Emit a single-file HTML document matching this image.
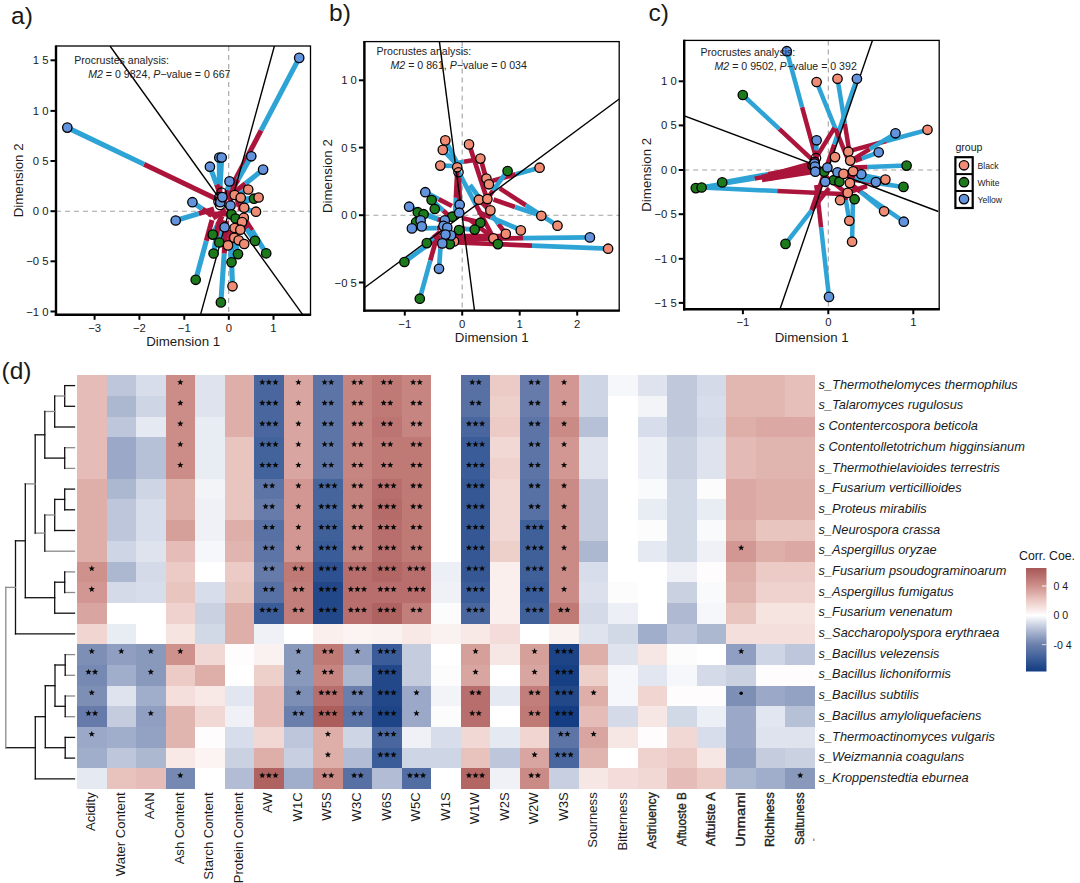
<!DOCTYPE html>
<html><head><meta charset="utf-8"><title>figure</title>
<style>html,body{margin:0;padding:0;background:#fff}svg{display:block}text{font-family:"Liberation Sans",sans-serif;fill:#1a1a1a}</style></head><body>
<svg width="1080" height="883" viewBox="0 0 1080 883">
<rect width="1080" height="883" fill="#ffffff"/>
<g shape-rendering="crispEdges">
<rect x="77.00" y="375.30" width="29.82" height="20.99" fill="#e5bcb8"/>
<rect x="106.52" y="375.30" width="29.82" height="20.99" fill="#bdc6da"/>
<rect x="136.04" y="375.30" width="29.82" height="20.99" fill="#d7ddea"/>
<rect x="165.56" y="375.30" width="29.82" height="20.99" fill="#cc8c88"/>
<rect x="195.08" y="375.30" width="29.82" height="20.99" fill="#dee3ee"/>
<rect x="224.60" y="375.30" width="29.82" height="20.99" fill="#deaea9"/>
<rect x="254.12" y="375.30" width="29.82" height="20.99" fill="#49679e"/>
<rect x="283.64" y="375.30" width="29.82" height="20.99" fill="#d9a5a0"/>
<rect x="313.16" y="375.30" width="29.82" height="20.99" fill="#5d75a6"/>
<rect x="342.68" y="375.30" width="29.82" height="20.99" fill="#c78581"/>
<rect x="372.20" y="375.30" width="29.82" height="20.99" fill="#bf7a76"/>
<rect x="401.72" y="375.30" width="29.82" height="20.99" fill="#c78581"/>
<rect x="431.24" y="375.30" width="29.82" height="20.99" fill="#ffffff"/>
<rect x="460.76" y="375.30" width="29.82" height="20.99" fill="#5871a4"/>
<rect x="490.28" y="375.30" width="29.82" height="20.99" fill="#eccbc6"/>
<rect x="519.80" y="375.30" width="29.82" height="20.99" fill="#667ba9"/>
<rect x="549.32" y="375.30" width="29.82" height="20.99" fill="#d29792"/>
<rect x="578.84" y="375.30" width="29.82" height="20.99" fill="#ced5e4"/>
<rect x="608.36" y="375.30" width="29.82" height="20.99" fill="#f6f7fa"/>
<rect x="637.88" y="375.30" width="29.82" height="20.99" fill="#dee3ee"/>
<rect x="667.40" y="375.30" width="29.82" height="20.99" fill="#c0c9dc"/>
<rect x="696.92" y="375.30" width="29.82" height="20.99" fill="#d4dae8"/>
<rect x="726.44" y="375.30" width="29.82" height="20.99" fill="#e2b7b2"/>
<rect x="755.96" y="375.30" width="29.82" height="20.99" fill="#e2b7b2"/>
<rect x="785.48" y="375.30" width="29.82" height="20.99" fill="#e6bfba"/>
<rect x="77.00" y="395.99" width="29.82" height="20.99" fill="#e5bcb8"/>
<rect x="106.52" y="395.99" width="29.82" height="20.99" fill="#acb7d0"/>
<rect x="136.04" y="395.99" width="29.82" height="20.99" fill="#ced5e4"/>
<rect x="165.56" y="395.99" width="29.82" height="20.99" fill="#cc8c88"/>
<rect x="195.08" y="395.99" width="29.82" height="20.99" fill="#dee3ee"/>
<rect x="224.60" y="395.99" width="29.82" height="20.99" fill="#deaea9"/>
<rect x="254.12" y="395.99" width="29.82" height="20.99" fill="#49679e"/>
<rect x="283.64" y="395.99" width="29.82" height="20.99" fill="#d9a5a0"/>
<rect x="313.16" y="395.99" width="29.82" height="20.99" fill="#5d75a6"/>
<rect x="342.68" y="395.99" width="29.82" height="20.99" fill="#c78581"/>
<rect x="372.20" y="395.99" width="29.82" height="20.99" fill="#bf7a76"/>
<rect x="401.72" y="395.99" width="29.82" height="20.99" fill="#c78581"/>
<rect x="431.24" y="395.99" width="29.82" height="20.99" fill="#ffffff"/>
<rect x="460.76" y="395.99" width="29.82" height="20.99" fill="#5871a4"/>
<rect x="490.28" y="395.99" width="29.82" height="20.99" fill="#eed0cb"/>
<rect x="519.80" y="395.99" width="29.82" height="20.99" fill="#667ba9"/>
<rect x="549.32" y="395.99" width="29.82" height="20.99" fill="#d29792"/>
<rect x="578.84" y="395.99" width="29.82" height="20.99" fill="#ced5e4"/>
<rect x="608.36" y="395.99" width="29.82" height="20.99" fill="#ffffff"/>
<rect x="637.88" y="395.99" width="29.82" height="20.99" fill="#f2f4f8"/>
<rect x="667.40" y="395.99" width="29.82" height="20.99" fill="#c0c9dc"/>
<rect x="696.92" y="395.99" width="29.82" height="20.99" fill="#d7ddea"/>
<rect x="726.44" y="395.99" width="29.82" height="20.99" fill="#e2b7b2"/>
<rect x="755.96" y="395.99" width="29.82" height="20.99" fill="#e2b7b2"/>
<rect x="785.48" y="395.99" width="29.82" height="20.99" fill="#e6bfba"/>
<rect x="77.00" y="416.68" width="29.82" height="20.99" fill="#e5bcb8"/>
<rect x="106.52" y="416.68" width="29.82" height="20.99" fill="#bdc6da"/>
<rect x="136.04" y="416.68" width="29.82" height="20.99" fill="#e5e9f1"/>
<rect x="165.56" y="416.68" width="29.82" height="20.99" fill="#cc8c88"/>
<rect x="195.08" y="416.68" width="29.82" height="20.99" fill="#e8ecf3"/>
<rect x="224.60" y="416.68" width="29.82" height="20.99" fill="#deaea9"/>
<rect x="254.12" y="416.68" width="29.82" height="20.99" fill="#49679e"/>
<rect x="283.64" y="416.68" width="29.82" height="20.99" fill="#d9a5a0"/>
<rect x="313.16" y="416.68" width="29.82" height="20.99" fill="#5d75a6"/>
<rect x="342.68" y="416.68" width="29.82" height="20.99" fill="#c78581"/>
<rect x="372.20" y="416.68" width="29.82" height="20.99" fill="#bc7572"/>
<rect x="401.72" y="416.68" width="29.82" height="20.99" fill="#c78581"/>
<rect x="431.24" y="416.68" width="29.82" height="20.99" fill="#ffffff"/>
<rect x="460.76" y="416.68" width="29.82" height="20.99" fill="#49679e"/>
<rect x="490.28" y="416.68" width="29.82" height="20.99" fill="#eccbc6"/>
<rect x="519.80" y="416.68" width="29.82" height="20.99" fill="#5d75a6"/>
<rect x="549.32" y="416.68" width="29.82" height="20.99" fill="#ca8a86"/>
<rect x="578.84" y="416.68" width="29.82" height="20.99" fill="#b6c0d6"/>
<rect x="608.36" y="416.68" width="29.82" height="20.99" fill="#ffffff"/>
<rect x="637.88" y="416.68" width="29.82" height="20.99" fill="#d7ddea"/>
<rect x="667.40" y="416.68" width="29.82" height="20.99" fill="#c0c9dc"/>
<rect x="696.92" y="416.68" width="29.82" height="20.99" fill="#d4dae8"/>
<rect x="726.44" y="416.68" width="29.82" height="20.99" fill="#deaea9"/>
<rect x="755.96" y="416.68" width="29.82" height="20.99" fill="#dba8a3"/>
<rect x="785.48" y="416.68" width="29.82" height="20.99" fill="#dba8a3"/>
<rect x="77.00" y="437.37" width="29.82" height="20.99" fill="#e5bcb8"/>
<rect x="106.52" y="437.37" width="29.82" height="20.99" fill="#9ba8c7"/>
<rect x="136.04" y="437.37" width="29.82" height="20.99" fill="#b6c0d6"/>
<rect x="165.56" y="437.37" width="29.82" height="20.99" fill="#cc8c88"/>
<rect x="195.08" y="437.37" width="29.82" height="20.99" fill="#e8ecf3"/>
<rect x="224.60" y="437.37" width="29.82" height="20.99" fill="#e9c5c0"/>
<rect x="254.12" y="437.37" width="29.82" height="20.99" fill="#43639c"/>
<rect x="283.64" y="437.37" width="29.82" height="20.99" fill="#d9a5a0"/>
<rect x="313.16" y="437.37" width="29.82" height="20.99" fill="#5d75a6"/>
<rect x="342.68" y="437.37" width="29.82" height="20.99" fill="#c78581"/>
<rect x="372.20" y="437.37" width="29.82" height="20.99" fill="#bf7a76"/>
<rect x="401.72" y="437.37" width="29.82" height="20.99" fill="#bf7a76"/>
<rect x="431.24" y="437.37" width="29.82" height="20.99" fill="#ffffff"/>
<rect x="460.76" y="437.37" width="29.82" height="20.99" fill="#3a5c98"/>
<rect x="490.28" y="437.37" width="29.82" height="20.99" fill="#f1d8d4"/>
<rect x="519.80" y="437.37" width="29.82" height="20.99" fill="#5d75a6"/>
<rect x="549.32" y="437.37" width="29.82" height="20.99" fill="#d29792"/>
<rect x="578.84" y="437.37" width="29.82" height="20.99" fill="#dee3ee"/>
<rect x="608.36" y="437.37" width="29.82" height="20.99" fill="#ffffff"/>
<rect x="637.88" y="437.37" width="29.82" height="20.99" fill="#eceff5"/>
<rect x="667.40" y="437.37" width="29.82" height="20.99" fill="#cad2e2"/>
<rect x="696.92" y="437.37" width="29.82" height="20.99" fill="#dee3ee"/>
<rect x="726.44" y="437.37" width="29.82" height="20.99" fill="#e3bab5"/>
<rect x="755.96" y="437.37" width="29.82" height="20.99" fill="#e0b4af"/>
<rect x="785.48" y="437.37" width="29.82" height="20.99" fill="#e0b4af"/>
<rect x="77.00" y="458.06" width="29.82" height="20.99" fill="#e5bcb8"/>
<rect x="106.52" y="458.06" width="29.82" height="20.99" fill="#9ba8c7"/>
<rect x="136.04" y="458.06" width="29.82" height="20.99" fill="#b6c0d6"/>
<rect x="165.56" y="458.06" width="29.82" height="20.99" fill="#cc8c88"/>
<rect x="195.08" y="458.06" width="29.82" height="20.99" fill="#e8ecf3"/>
<rect x="224.60" y="458.06" width="29.82" height="20.99" fill="#e9c5c0"/>
<rect x="254.12" y="458.06" width="29.82" height="20.99" fill="#43639c"/>
<rect x="283.64" y="458.06" width="29.82" height="20.99" fill="#d9a5a0"/>
<rect x="313.16" y="458.06" width="29.82" height="20.99" fill="#5d75a6"/>
<rect x="342.68" y="458.06" width="29.82" height="20.99" fill="#c78581"/>
<rect x="372.20" y="458.06" width="29.82" height="20.99" fill="#bf7a76"/>
<rect x="401.72" y="458.06" width="29.82" height="20.99" fill="#bf7a76"/>
<rect x="431.24" y="458.06" width="29.82" height="20.99" fill="#ffffff"/>
<rect x="460.76" y="458.06" width="29.82" height="20.99" fill="#3a5c98"/>
<rect x="490.28" y="458.06" width="29.82" height="20.99" fill="#efd2ce"/>
<rect x="519.80" y="458.06" width="29.82" height="20.99" fill="#5d75a6"/>
<rect x="549.32" y="458.06" width="29.82" height="20.99" fill="#d29792"/>
<rect x="578.84" y="458.06" width="29.82" height="20.99" fill="#dee3ee"/>
<rect x="608.36" y="458.06" width="29.82" height="20.99" fill="#ffffff"/>
<rect x="637.88" y="458.06" width="29.82" height="20.99" fill="#eceff5"/>
<rect x="667.40" y="458.06" width="29.82" height="20.99" fill="#cad2e2"/>
<rect x="696.92" y="458.06" width="29.82" height="20.99" fill="#dee3ee"/>
<rect x="726.44" y="458.06" width="29.82" height="20.99" fill="#e3bab5"/>
<rect x="755.96" y="458.06" width="29.82" height="20.99" fill="#e0b4af"/>
<rect x="785.48" y="458.06" width="29.82" height="20.99" fill="#e0b4af"/>
<rect x="77.00" y="478.75" width="29.82" height="20.99" fill="#deaea9"/>
<rect x="106.52" y="478.75" width="29.82" height="20.99" fill="#acb7d0"/>
<rect x="136.04" y="478.75" width="29.82" height="20.99" fill="#ced5e4"/>
<rect x="165.56" y="478.75" width="29.82" height="20.99" fill="#deaea9"/>
<rect x="195.08" y="478.75" width="29.82" height="20.99" fill="#f2f4f8"/>
<rect x="224.60" y="478.75" width="29.82" height="20.99" fill="#e9c5c0"/>
<rect x="254.12" y="478.75" width="29.82" height="20.99" fill="#5d75a6"/>
<rect x="283.64" y="478.75" width="29.82" height="20.99" fill="#d29792"/>
<rect x="313.16" y="478.75" width="29.82" height="20.99" fill="#46659d"/>
<rect x="342.68" y="478.75" width="29.82" height="20.99" fill="#c5837f"/>
<rect x="372.20" y="478.75" width="29.82" height="20.99" fill="#b76e6c"/>
<rect x="401.72" y="478.75" width="29.82" height="20.99" fill="#bf7a76"/>
<rect x="431.24" y="478.75" width="29.82" height="20.99" fill="#ffffff"/>
<rect x="460.76" y="478.75" width="29.82" height="20.99" fill="#355895"/>
<rect x="490.28" y="478.75" width="29.82" height="20.99" fill="#f1d8d4"/>
<rect x="519.80" y="478.75" width="29.82" height="20.99" fill="#5871a4"/>
<rect x="549.32" y="478.75" width="29.82" height="20.99" fill="#ca8a86"/>
<rect x="578.84" y="478.75" width="29.82" height="20.99" fill="#c4ccde"/>
<rect x="608.36" y="478.75" width="29.82" height="20.99" fill="#ffffff"/>
<rect x="637.88" y="478.75" width="29.82" height="20.99" fill="#f9fafc"/>
<rect x="667.40" y="478.75" width="29.82" height="20.99" fill="#d1d8e6"/>
<rect x="696.92" y="478.75" width="29.82" height="20.99" fill="#fcfcfd"/>
<rect x="726.44" y="478.75" width="29.82" height="20.99" fill="#dba8a3"/>
<rect x="755.96" y="478.75" width="29.82" height="20.99" fill="#deaea9"/>
<rect x="785.48" y="478.75" width="29.82" height="20.99" fill="#deaea9"/>
<rect x="77.00" y="499.44" width="29.82" height="20.99" fill="#deaea9"/>
<rect x="106.52" y="499.44" width="29.82" height="20.99" fill="#bdc6da"/>
<rect x="136.04" y="499.44" width="29.82" height="20.99" fill="#d7ddea"/>
<rect x="165.56" y="499.44" width="29.82" height="20.99" fill="#deaea9"/>
<rect x="195.08" y="499.44" width="29.82" height="20.99" fill="#eff1f7"/>
<rect x="224.60" y="499.44" width="29.82" height="20.99" fill="#e9c5c0"/>
<rect x="254.12" y="499.44" width="29.82" height="20.99" fill="#667ba9"/>
<rect x="283.64" y="499.44" width="29.82" height="20.99" fill="#d29792"/>
<rect x="313.16" y="499.44" width="29.82" height="20.99" fill="#46659d"/>
<rect x="342.68" y="499.44" width="29.82" height="20.99" fill="#c5837f"/>
<rect x="372.20" y="499.44" width="29.82" height="20.99" fill="#b56c69"/>
<rect x="401.72" y="499.44" width="29.82" height="20.99" fill="#bf7a76"/>
<rect x="431.24" y="499.44" width="29.82" height="20.99" fill="#ffffff"/>
<rect x="460.76" y="499.44" width="29.82" height="20.99" fill="#355895"/>
<rect x="490.28" y="499.44" width="29.82" height="20.99" fill="#f1d8d4"/>
<rect x="519.80" y="499.44" width="29.82" height="20.99" fill="#5871a4"/>
<rect x="549.32" y="499.44" width="29.82" height="20.99" fill="#ca8a86"/>
<rect x="578.84" y="499.44" width="29.82" height="20.99" fill="#c4ccde"/>
<rect x="608.36" y="499.44" width="29.82" height="20.99" fill="#ffffff"/>
<rect x="637.88" y="499.44" width="29.82" height="20.99" fill="#e8ecf3"/>
<rect x="667.40" y="499.44" width="29.82" height="20.99" fill="#d1d8e6"/>
<rect x="696.92" y="499.44" width="29.82" height="20.99" fill="#e8ecf3"/>
<rect x="726.44" y="499.44" width="29.82" height="20.99" fill="#dba8a3"/>
<rect x="755.96" y="499.44" width="29.82" height="20.99" fill="#deaea9"/>
<rect x="785.48" y="499.44" width="29.82" height="20.99" fill="#deaea9"/>
<rect x="77.00" y="520.13" width="29.82" height="20.99" fill="#deaea9"/>
<rect x="106.52" y="520.13" width="29.82" height="20.99" fill="#bdc6da"/>
<rect x="136.04" y="520.13" width="29.82" height="20.99" fill="#d7ddea"/>
<rect x="165.56" y="520.13" width="29.82" height="20.99" fill="#d6a09a"/>
<rect x="195.08" y="520.13" width="29.82" height="20.99" fill="#eff1f7"/>
<rect x="224.60" y="520.13" width="29.82" height="20.99" fill="#deaea9"/>
<rect x="254.12" y="520.13" width="29.82" height="20.99" fill="#5871a4"/>
<rect x="283.64" y="520.13" width="29.82" height="20.99" fill="#d29792"/>
<rect x="313.16" y="520.13" width="29.82" height="20.99" fill="#40609a"/>
<rect x="342.68" y="520.13" width="29.82" height="20.99" fill="#c5837f"/>
<rect x="372.20" y="520.13" width="29.82" height="20.99" fill="#b76e6c"/>
<rect x="401.72" y="520.13" width="29.82" height="20.99" fill="#bf7a76"/>
<rect x="431.24" y="520.13" width="29.82" height="20.99" fill="#ffffff"/>
<rect x="460.76" y="520.13" width="29.82" height="20.99" fill="#355895"/>
<rect x="490.28" y="520.13" width="29.82" height="20.99" fill="#f1d8d4"/>
<rect x="519.80" y="520.13" width="29.82" height="20.99" fill="#40609a"/>
<rect x="549.32" y="520.13" width="29.82" height="20.99" fill="#ca8a86"/>
<rect x="578.84" y="520.13" width="29.82" height="20.99" fill="#c4ccde"/>
<rect x="608.36" y="520.13" width="29.82" height="20.99" fill="#ffffff"/>
<rect x="637.88" y="520.13" width="29.82" height="20.99" fill="#fcfcfd"/>
<rect x="667.40" y="520.13" width="29.82" height="20.99" fill="#d1d8e6"/>
<rect x="696.92" y="520.13" width="29.82" height="20.99" fill="#f9fafc"/>
<rect x="726.44" y="520.13" width="29.82" height="20.99" fill="#deaea9"/>
<rect x="755.96" y="520.13" width="29.82" height="20.99" fill="#e9c5c0"/>
<rect x="785.48" y="520.13" width="29.82" height="20.99" fill="#e9c5c0"/>
<rect x="77.00" y="540.82" width="29.82" height="20.99" fill="#deaea9"/>
<rect x="106.52" y="540.82" width="29.82" height="20.99" fill="#ced5e4"/>
<rect x="136.04" y="540.82" width="29.82" height="20.99" fill="#dee3ee"/>
<rect x="165.56" y="540.82" width="29.82" height="20.99" fill="#e5bcb8"/>
<rect x="195.08" y="540.82" width="29.82" height="20.99" fill="#f6f7fa"/>
<rect x="224.60" y="540.82" width="29.82" height="20.99" fill="#e0b4af"/>
<rect x="254.12" y="540.82" width="29.82" height="20.99" fill="#5d75a6"/>
<rect x="283.64" y="540.82" width="29.82" height="20.99" fill="#d29792"/>
<rect x="313.16" y="540.82" width="29.82" height="20.99" fill="#3a5c98"/>
<rect x="342.68" y="540.82" width="29.82" height="20.99" fill="#c5837f"/>
<rect x="372.20" y="540.82" width="29.82" height="20.99" fill="#b76e6c"/>
<rect x="401.72" y="540.82" width="29.82" height="20.99" fill="#bf7a76"/>
<rect x="431.24" y="540.82" width="29.82" height="20.99" fill="#ffffff"/>
<rect x="460.76" y="540.82" width="29.82" height="20.99" fill="#355895"/>
<rect x="490.28" y="540.82" width="29.82" height="20.99" fill="#eed0cb"/>
<rect x="519.80" y="540.82" width="29.82" height="20.99" fill="#40609a"/>
<rect x="549.32" y="540.82" width="29.82" height="20.99" fill="#ca8a86"/>
<rect x="578.84" y="540.82" width="29.82" height="20.99" fill="#acb7d0"/>
<rect x="608.36" y="540.82" width="29.82" height="20.99" fill="#ffffff"/>
<rect x="637.88" y="540.82" width="29.82" height="20.99" fill="#e5e9f1"/>
<rect x="667.40" y="540.82" width="29.82" height="20.99" fill="#d1d8e6"/>
<rect x="696.92" y="540.82" width="29.82" height="20.99" fill="#eff1f7"/>
<rect x="726.44" y="540.82" width="29.82" height="20.99" fill="#d29792"/>
<rect x="755.96" y="540.82" width="29.82" height="20.99" fill="#deaea9"/>
<rect x="785.48" y="540.82" width="29.82" height="20.99" fill="#dba8a3"/>
<rect x="77.00" y="561.51" width="29.82" height="20.99" fill="#cf918c"/>
<rect x="106.52" y="561.51" width="29.82" height="20.99" fill="#acb7d0"/>
<rect x="136.04" y="561.51" width="29.82" height="20.99" fill="#d4dae8"/>
<rect x="165.56" y="561.51" width="29.82" height="20.99" fill="#eccbc6"/>
<rect x="195.08" y="561.51" width="29.82" height="20.99" fill="#ffffff"/>
<rect x="224.60" y="561.51" width="29.82" height="20.99" fill="#eccbc6"/>
<rect x="254.12" y="561.51" width="29.82" height="20.99" fill="#667ba9"/>
<rect x="283.64" y="561.51" width="29.82" height="20.99" fill="#bf7a76"/>
<rect x="313.16" y="561.51" width="29.82" height="20.99" fill="#2e5291"/>
<rect x="342.68" y="561.51" width="29.82" height="20.99" fill="#b76e6c"/>
<rect x="372.20" y="561.51" width="29.82" height="20.99" fill="#b26765"/>
<rect x="401.72" y="561.51" width="29.82" height="20.99" fill="#b76e6c"/>
<rect x="431.24" y="561.51" width="29.82" height="20.99" fill="#eceff5"/>
<rect x="460.76" y="561.51" width="29.82" height="20.99" fill="#355895"/>
<rect x="490.28" y="561.51" width="29.82" height="20.99" fill="#faefed"/>
<rect x="519.80" y="561.51" width="29.82" height="20.99" fill="#40609a"/>
<rect x="549.32" y="561.51" width="29.82" height="20.99" fill="#ca8a86"/>
<rect x="578.84" y="561.51" width="29.82" height="20.99" fill="#d7ddea"/>
<rect x="608.36" y="561.51" width="29.82" height="20.99" fill="#ffffff"/>
<rect x="637.88" y="561.51" width="29.82" height="20.99" fill="#ffffff"/>
<rect x="667.40" y="561.51" width="29.82" height="20.99" fill="#eff1f7"/>
<rect x="696.92" y="561.51" width="29.82" height="20.99" fill="#fefcfc"/>
<rect x="726.44" y="561.51" width="29.82" height="20.99" fill="#deaea9"/>
<rect x="755.96" y="561.51" width="29.82" height="20.99" fill="#eccbc6"/>
<rect x="785.48" y="561.51" width="29.82" height="20.99" fill="#eccbc6"/>
<rect x="77.00" y="582.20" width="29.82" height="20.99" fill="#d29792"/>
<rect x="106.52" y="582.20" width="29.82" height="20.99" fill="#d4dae8"/>
<rect x="136.04" y="582.20" width="29.82" height="20.99" fill="#d7ddea"/>
<rect x="165.56" y="582.20" width="29.82" height="20.99" fill="#e9c5c0"/>
<rect x="195.08" y="582.20" width="29.82" height="20.99" fill="#d7ddea"/>
<rect x="224.60" y="582.20" width="29.82" height="20.99" fill="#e9c5c0"/>
<rect x="254.12" y="582.20" width="29.82" height="20.99" fill="#5871a4"/>
<rect x="283.64" y="582.20" width="29.82" height="20.99" fill="#c27e7b"/>
<rect x="313.16" y="582.20" width="29.82" height="20.99" fill="#22488a"/>
<rect x="342.68" y="582.20" width="29.82" height="20.99" fill="#b76e6c"/>
<rect x="372.20" y="582.20" width="29.82" height="20.99" fill="#b76e6c"/>
<rect x="401.72" y="582.20" width="29.82" height="20.99" fill="#b76e6c"/>
<rect x="431.24" y="582.20" width="29.82" height="20.99" fill="#eff1f7"/>
<rect x="460.76" y="582.20" width="29.82" height="20.99" fill="#3a5c98"/>
<rect x="490.28" y="582.20" width="29.82" height="20.99" fill="#faefed"/>
<rect x="519.80" y="582.20" width="29.82" height="20.99" fill="#3a5c98"/>
<rect x="549.32" y="582.20" width="29.82" height="20.99" fill="#ca8a86"/>
<rect x="578.84" y="582.20" width="29.82" height="20.99" fill="#dbe0ec"/>
<rect x="608.36" y="582.20" width="29.82" height="20.99" fill="#fcfcfd"/>
<rect x="637.88" y="582.20" width="29.82" height="20.99" fill="#ffffff"/>
<rect x="667.40" y="582.20" width="29.82" height="20.99" fill="#cad2e2"/>
<rect x="696.92" y="582.20" width="29.82" height="20.99" fill="#f9fafc"/>
<rect x="726.44" y="582.20" width="29.82" height="20.99" fill="#e0b4af"/>
<rect x="755.96" y="582.20" width="29.82" height="20.99" fill="#efd2ce"/>
<rect x="785.48" y="582.20" width="29.82" height="20.99" fill="#efd2ce"/>
<rect x="77.00" y="602.89" width="29.82" height="20.99" fill="#d9a5a0"/>
<rect x="106.52" y="602.89" width="29.82" height="20.99" fill="#ffffff"/>
<rect x="136.04" y="602.89" width="29.82" height="20.99" fill="#ffffff"/>
<rect x="165.56" y="602.89" width="29.82" height="20.99" fill="#efd2ce"/>
<rect x="195.08" y="602.89" width="29.82" height="20.99" fill="#cad2e2"/>
<rect x="224.60" y="602.89" width="29.82" height="20.99" fill="#deaea9"/>
<rect x="254.12" y="602.89" width="29.82" height="20.99" fill="#3a5c98"/>
<rect x="283.64" y="602.89" width="29.82" height="20.99" fill="#c27e7b"/>
<rect x="313.16" y="602.89" width="29.82" height="20.99" fill="#22488a"/>
<rect x="342.68" y="602.89" width="29.82" height="20.99" fill="#b76e6c"/>
<rect x="372.20" y="602.89" width="29.82" height="20.99" fill="#af6361"/>
<rect x="401.72" y="602.89" width="29.82" height="20.99" fill="#c27e7b"/>
<rect x="431.24" y="602.89" width="29.82" height="20.99" fill="#fcfcfd"/>
<rect x="460.76" y="602.89" width="29.82" height="20.99" fill="#49679e"/>
<rect x="490.28" y="602.89" width="29.82" height="20.99" fill="#faefed"/>
<rect x="519.80" y="602.89" width="29.82" height="20.99" fill="#40609a"/>
<rect x="549.32" y="602.89" width="29.82" height="20.99" fill="#bf7a76"/>
<rect x="578.84" y="602.89" width="29.82" height="20.99" fill="#d4dae8"/>
<rect x="608.36" y="602.89" width="29.82" height="20.99" fill="#eceff5"/>
<rect x="637.88" y="602.89" width="29.82" height="20.99" fill="#ffffff"/>
<rect x="667.40" y="602.89" width="29.82" height="20.99" fill="#afbad2"/>
<rect x="696.92" y="602.89" width="29.82" height="20.99" fill="#f6f7fa"/>
<rect x="726.44" y="602.89" width="29.82" height="20.99" fill="#e9c5c0"/>
<rect x="755.96" y="602.89" width="29.82" height="20.99" fill="#f6e4e1"/>
<rect x="785.48" y="602.89" width="29.82" height="20.99" fill="#f6e4e1"/>
<rect x="77.00" y="623.58" width="29.82" height="20.99" fill="#f0d5d1"/>
<rect x="106.52" y="623.58" width="29.82" height="20.99" fill="#e8ecf3"/>
<rect x="136.04" y="623.58" width="29.82" height="20.99" fill="#ffffff"/>
<rect x="165.56" y="623.58" width="29.82" height="20.99" fill="#f6e4e1"/>
<rect x="195.08" y="623.58" width="29.82" height="20.99" fill="#d1d8e6"/>
<rect x="224.60" y="623.58" width="29.82" height="20.99" fill="#deaea9"/>
<rect x="254.12" y="623.58" width="29.82" height="20.99" fill="#eff1f7"/>
<rect x="283.64" y="623.58" width="29.82" height="20.99" fill="#ffffff"/>
<rect x="313.16" y="623.58" width="29.82" height="20.99" fill="#faefed"/>
<rect x="342.68" y="623.58" width="29.82" height="20.99" fill="#fbf4f3"/>
<rect x="372.20" y="623.58" width="29.82" height="20.99" fill="#faf2f0"/>
<rect x="401.72" y="623.58" width="29.82" height="20.99" fill="#f8e9e7"/>
<rect x="431.24" y="623.58" width="29.82" height="20.99" fill="#faf2f0"/>
<rect x="460.76" y="623.58" width="29.82" height="20.99" fill="#f8e9e7"/>
<rect x="490.28" y="623.58" width="29.82" height="20.99" fill="#f3dcd9"/>
<rect x="519.80" y="623.58" width="29.82" height="20.99" fill="#ffffff"/>
<rect x="549.32" y="623.58" width="29.82" height="20.99" fill="#faf2f0"/>
<rect x="578.84" y="623.58" width="29.82" height="20.99" fill="#dee3ee"/>
<rect x="608.36" y="623.58" width="29.82" height="20.99" fill="#d1d8e6"/>
<rect x="637.88" y="623.58" width="29.82" height="20.99" fill="#a1aecb"/>
<rect x="667.40" y="623.58" width="29.82" height="20.99" fill="#bdc6da"/>
<rect x="696.92" y="623.58" width="29.82" height="20.99" fill="#acb7d0"/>
<rect x="726.44" y="623.58" width="29.82" height="20.99" fill="#f4dfdc"/>
<rect x="755.96" y="623.58" width="29.82" height="20.99" fill="#f4dfdc"/>
<rect x="785.48" y="623.58" width="29.82" height="20.99" fill="#f4dfdc"/>
<rect x="77.00" y="644.27" width="29.82" height="20.99" fill="#7e8fb6"/>
<rect x="106.52" y="644.27" width="29.82" height="20.99" fill="#909fc1"/>
<rect x="136.04" y="644.27" width="29.82" height="20.99" fill="#8999bc"/>
<rect x="165.56" y="644.27" width="29.82" height="20.99" fill="#cf918c"/>
<rect x="195.08" y="644.27" width="29.82" height="20.99" fill="#f1d8d4"/>
<rect x="224.60" y="644.27" width="29.82" height="20.99" fill="#fefcfc"/>
<rect x="254.12" y="644.27" width="29.82" height="20.99" fill="#faf2f0"/>
<rect x="283.64" y="644.27" width="29.82" height="20.99" fill="#8999bc"/>
<rect x="313.16" y="644.27" width="29.82" height="20.99" fill="#bf7a76"/>
<rect x="342.68" y="644.27" width="29.82" height="20.99" fill="#909fc1"/>
<rect x="372.20" y="644.27" width="29.82" height="20.99" fill="#3a5c98"/>
<rect x="401.72" y="644.27" width="29.82" height="20.99" fill="#c4ccde"/>
<rect x="431.24" y="644.27" width="29.82" height="20.99" fill="#ffffff"/>
<rect x="460.76" y="644.27" width="29.82" height="20.99" fill="#d6a09a"/>
<rect x="490.28" y="644.27" width="29.82" height="20.99" fill="#f7e7e4"/>
<rect x="519.80" y="644.27" width="29.82" height="20.99" fill="#d6a09a"/>
<rect x="549.32" y="644.27" width="29.82" height="20.99" fill="#1d4487"/>
<rect x="578.84" y="644.27" width="29.82" height="20.99" fill="#deaea9"/>
<rect x="608.36" y="644.27" width="29.82" height="20.99" fill="#dee3ee"/>
<rect x="637.88" y="644.27" width="29.82" height="20.99" fill="#f7e7e4"/>
<rect x="667.40" y="644.27" width="29.82" height="20.99" fill="#fcfcfd"/>
<rect x="696.92" y="644.27" width="29.82" height="20.99" fill="#ffffff"/>
<rect x="726.44" y="644.27" width="29.82" height="20.99" fill="#909fc1"/>
<rect x="755.96" y="644.27" width="29.82" height="20.99" fill="#ced5e4"/>
<rect x="785.48" y="644.27" width="29.82" height="20.99" fill="#bdc6da"/>
<rect x="77.00" y="664.96" width="29.82" height="20.99" fill="#7689b2"/>
<rect x="106.52" y="664.96" width="29.82" height="20.99" fill="#a1aecb"/>
<rect x="136.04" y="664.96" width="29.82" height="20.99" fill="#8999bc"/>
<rect x="165.56" y="664.96" width="29.82" height="20.99" fill="#eccbc6"/>
<rect x="195.08" y="664.96" width="29.82" height="20.99" fill="#deaea9"/>
<rect x="224.60" y="664.96" width="29.82" height="20.99" fill="#ffffff"/>
<rect x="254.12" y="664.96" width="29.82" height="20.99" fill="#eed0cb"/>
<rect x="283.64" y="664.96" width="29.82" height="20.99" fill="#8999bc"/>
<rect x="313.16" y="664.96" width="29.82" height="20.99" fill="#c78581"/>
<rect x="342.68" y="664.96" width="29.82" height="20.99" fill="#acb7d0"/>
<rect x="372.20" y="664.96" width="29.82" height="20.99" fill="#22488a"/>
<rect x="401.72" y="664.96" width="29.82" height="20.99" fill="#c4ccde"/>
<rect x="431.24" y="664.96" width="29.82" height="20.99" fill="#fcfcfd"/>
<rect x="460.76" y="664.96" width="29.82" height="20.99" fill="#d9a5a0"/>
<rect x="490.28" y="664.96" width="29.82" height="20.99" fill="#ffffff"/>
<rect x="519.80" y="664.96" width="29.82" height="20.99" fill="#d9a5a0"/>
<rect x="549.32" y="664.96" width="29.82" height="20.99" fill="#173f84"/>
<rect x="578.84" y="664.96" width="29.82" height="20.99" fill="#eed0cb"/>
<rect x="608.36" y="664.96" width="29.82" height="20.99" fill="#f6f7fa"/>
<rect x="637.88" y="664.96" width="29.82" height="20.99" fill="#e2e6f0"/>
<rect x="667.40" y="664.96" width="29.82" height="20.99" fill="#f6f7fa"/>
<rect x="696.92" y="664.96" width="29.82" height="20.99" fill="#d4dae8"/>
<rect x="726.44" y="664.96" width="29.82" height="20.99" fill="#cad2e2"/>
<rect x="755.96" y="664.96" width="29.82" height="20.99" fill="#fefcfc"/>
<rect x="785.48" y="664.96" width="29.82" height="20.99" fill="#fefcfc"/>
<rect x="77.00" y="685.65" width="29.82" height="20.99" fill="#7e8fb6"/>
<rect x="106.52" y="685.65" width="29.82" height="20.99" fill="#dee3ee"/>
<rect x="136.04" y="685.65" width="29.82" height="20.99" fill="#a1aecb"/>
<rect x="165.56" y="685.65" width="29.82" height="20.99" fill="#f4dfdc"/>
<rect x="195.08" y="685.65" width="29.82" height="20.99" fill="#f8e9e7"/>
<rect x="224.60" y="685.65" width="29.82" height="20.99" fill="#e2e6f0"/>
<rect x="254.12" y="685.65" width="29.82" height="20.99" fill="#e5bcb8"/>
<rect x="283.64" y="685.65" width="29.82" height="20.99" fill="#7e8fb6"/>
<rect x="313.16" y="685.65" width="29.82" height="20.99" fill="#b76e6c"/>
<rect x="342.68" y="685.65" width="29.82" height="20.99" fill="#6b7fac"/>
<rect x="372.20" y="685.65" width="29.82" height="20.99" fill="#22488a"/>
<rect x="401.72" y="685.65" width="29.82" height="20.99" fill="#9ba8c7"/>
<rect x="431.24" y="685.65" width="29.82" height="20.99" fill="#f2f4f8"/>
<rect x="460.76" y="685.65" width="29.82" height="20.99" fill="#b76e6c"/>
<rect x="490.28" y="685.65" width="29.82" height="20.99" fill="#e5e9f1"/>
<rect x="519.80" y="685.65" width="29.82" height="20.99" fill="#c27e7b"/>
<rect x="549.32" y="685.65" width="29.82" height="20.99" fill="#22488a"/>
<rect x="578.84" y="685.65" width="29.82" height="20.99" fill="#deaea9"/>
<rect x="608.36" y="685.65" width="29.82" height="20.99" fill="#f6f7fa"/>
<rect x="637.88" y="685.65" width="29.82" height="20.99" fill="#f0d5d1"/>
<rect x="667.40" y="685.65" width="29.82" height="20.99" fill="#fefcfc"/>
<rect x="696.92" y="685.65" width="29.82" height="20.99" fill="#fefcfc"/>
<rect x="726.44" y="685.65" width="29.82" height="20.99" fill="#7e8fb6"/>
<rect x="755.96" y="685.65" width="29.82" height="20.99" fill="#9ba8c7"/>
<rect x="785.48" y="685.65" width="29.82" height="20.99" fill="#93a2c3"/>
<rect x="77.00" y="706.34" width="29.82" height="20.99" fill="#667ba9"/>
<rect x="106.52" y="706.34" width="29.82" height="20.99" fill="#c4ccde"/>
<rect x="136.04" y="706.34" width="29.82" height="20.99" fill="#909fc1"/>
<rect x="165.56" y="706.34" width="29.82" height="20.99" fill="#e0b4af"/>
<rect x="195.08" y="706.34" width="29.82" height="20.99" fill="#f1d8d4"/>
<rect x="224.60" y="706.34" width="29.82" height="20.99" fill="#eff1f7"/>
<rect x="254.12" y="706.34" width="29.82" height="20.99" fill="#e5bcb8"/>
<rect x="283.64" y="706.34" width="29.82" height="20.99" fill="#6b7fac"/>
<rect x="313.16" y="706.34" width="29.82" height="20.99" fill="#ac5e5c"/>
<rect x="342.68" y="706.34" width="29.82" height="20.99" fill="#5d75a6"/>
<rect x="372.20" y="706.34" width="29.82" height="20.99" fill="#1d4487"/>
<rect x="401.72" y="706.34" width="29.82" height="20.99" fill="#9ba8c7"/>
<rect x="431.24" y="706.34" width="29.82" height="20.99" fill="#fcfcfd"/>
<rect x="460.76" y="706.34" width="29.82" height="20.99" fill="#b76e6c"/>
<rect x="490.28" y="706.34" width="29.82" height="20.99" fill="#ffffff"/>
<rect x="519.80" y="706.34" width="29.82" height="20.99" fill="#bf7a76"/>
<rect x="549.32" y="706.34" width="29.82" height="20.99" fill="#143d83"/>
<rect x="578.84" y="706.34" width="29.82" height="20.99" fill="#e5bcb8"/>
<rect x="608.36" y="706.34" width="29.82" height="20.99" fill="#d4dae8"/>
<rect x="637.88" y="706.34" width="29.82" height="20.99" fill="#f7e7e4"/>
<rect x="667.40" y="706.34" width="29.82" height="20.99" fill="#d1d8e6"/>
<rect x="696.92" y="706.34" width="29.82" height="20.99" fill="#eceff5"/>
<rect x="726.44" y="706.34" width="29.82" height="20.99" fill="#9ba8c7"/>
<rect x="755.96" y="706.34" width="29.82" height="20.99" fill="#e2e6f0"/>
<rect x="785.48" y="706.34" width="29.82" height="20.99" fill="#b6c0d6"/>
<rect x="77.00" y="727.03" width="29.82" height="20.99" fill="#9ba8c7"/>
<rect x="106.52" y="727.03" width="29.82" height="20.99" fill="#a1aecb"/>
<rect x="136.04" y="727.03" width="29.82" height="20.99" fill="#93a2c3"/>
<rect x="165.56" y="727.03" width="29.82" height="20.99" fill="#e0b4af"/>
<rect x="195.08" y="727.03" width="29.82" height="20.99" fill="#fefcfc"/>
<rect x="224.60" y="727.03" width="29.82" height="20.99" fill="#d7ddea"/>
<rect x="254.12" y="727.03" width="29.82" height="20.99" fill="#f1d8d4"/>
<rect x="283.64" y="727.03" width="29.82" height="20.99" fill="#bdc6da"/>
<rect x="313.16" y="727.03" width="29.82" height="20.99" fill="#deaea9"/>
<rect x="342.68" y="727.03" width="29.82" height="20.99" fill="#ced5e4"/>
<rect x="372.20" y="727.03" width="29.82" height="20.99" fill="#49679e"/>
<rect x="401.72" y="727.03" width="29.82" height="20.99" fill="#eff1f7"/>
<rect x="431.24" y="727.03" width="29.82" height="20.99" fill="#d7ddea"/>
<rect x="460.76" y="727.03" width="29.82" height="20.99" fill="#f1d8d4"/>
<rect x="490.28" y="727.03" width="29.82" height="20.99" fill="#e5e9f1"/>
<rect x="519.80" y="727.03" width="29.82" height="20.99" fill="#f0d5d1"/>
<rect x="549.32" y="727.03" width="29.82" height="20.99" fill="#5d75a6"/>
<rect x="578.84" y="727.03" width="29.82" height="20.99" fill="#d9a5a0"/>
<rect x="608.36" y="727.03" width="29.82" height="20.99" fill="#f7e7e4"/>
<rect x="637.88" y="727.03" width="29.82" height="20.99" fill="#fefcfc"/>
<rect x="667.40" y="727.03" width="29.82" height="20.99" fill="#f1d8d4"/>
<rect x="696.92" y="727.03" width="29.82" height="20.99" fill="#d7ddea"/>
<rect x="726.44" y="727.03" width="29.82" height="20.99" fill="#9ba8c7"/>
<rect x="755.96" y="727.03" width="29.82" height="20.99" fill="#dee3ee"/>
<rect x="785.48" y="727.03" width="29.82" height="20.99" fill="#dee3ee"/>
<rect x="77.00" y="747.72" width="29.82" height="20.99" fill="#a1aecb"/>
<rect x="106.52" y="747.72" width="29.82" height="20.99" fill="#bdc6da"/>
<rect x="136.04" y="747.72" width="29.82" height="20.99" fill="#acb7d0"/>
<rect x="165.56" y="747.72" width="29.82" height="20.99" fill="#f8e9e7"/>
<rect x="195.08" y="747.72" width="29.82" height="20.99" fill="#fbf4f3"/>
<rect x="224.60" y="747.72" width="29.82" height="20.99" fill="#cad2e2"/>
<rect x="254.12" y="747.72" width="29.82" height="20.99" fill="#deaea9"/>
<rect x="283.64" y="747.72" width="29.82" height="20.99" fill="#c7cfe0"/>
<rect x="313.16" y="747.72" width="29.82" height="20.99" fill="#deaea9"/>
<rect x="342.68" y="747.72" width="29.82" height="20.99" fill="#b2bcd4"/>
<rect x="372.20" y="747.72" width="29.82" height="20.99" fill="#3a5c98"/>
<rect x="401.72" y="747.72" width="29.82" height="20.99" fill="#ced5e4"/>
<rect x="431.24" y="747.72" width="29.82" height="20.99" fill="#ced5e4"/>
<rect x="460.76" y="747.72" width="29.82" height="20.99" fill="#e8c2bd"/>
<rect x="490.28" y="747.72" width="29.82" height="20.99" fill="#bdc6da"/>
<rect x="519.80" y="747.72" width="29.82" height="20.99" fill="#d9a5a0"/>
<rect x="549.32" y="747.72" width="29.82" height="20.99" fill="#49679e"/>
<rect x="578.84" y="747.72" width="29.82" height="20.99" fill="#e0b4af"/>
<rect x="608.36" y="747.72" width="29.82" height="20.99" fill="#ffffff"/>
<rect x="637.88" y="747.72" width="29.82" height="20.99" fill="#efd2ce"/>
<rect x="667.40" y="747.72" width="29.82" height="20.99" fill="#eccbc6"/>
<rect x="696.92" y="747.72" width="29.82" height="20.99" fill="#f7e7e4"/>
<rect x="726.44" y="747.72" width="29.82" height="20.99" fill="#93a2c3"/>
<rect x="755.96" y="747.72" width="29.82" height="20.99" fill="#c4ccde"/>
<rect x="785.48" y="747.72" width="29.82" height="20.99" fill="#cad2e2"/>
<rect x="77.00" y="768.41" width="29.82" height="20.99" fill="#e5e9f1"/>
<rect x="106.52" y="768.41" width="29.82" height="20.99" fill="#e8c2bd"/>
<rect x="136.04" y="768.41" width="29.82" height="20.99" fill="#e5bcb8"/>
<rect x="165.56" y="768.41" width="29.82" height="20.99" fill="#7689b2"/>
<rect x="195.08" y="768.41" width="29.82" height="20.99" fill="#ffffff"/>
<rect x="224.60" y="768.41" width="29.82" height="20.99" fill="#b2bcd4"/>
<rect x="254.12" y="768.41" width="29.82" height="20.99" fill="#af6361"/>
<rect x="283.64" y="768.41" width="29.82" height="20.99" fill="#a1aecb"/>
<rect x="313.16" y="768.41" width="29.82" height="20.99" fill="#ca8a86"/>
<rect x="342.68" y="768.41" width="29.82" height="20.99" fill="#5871a4"/>
<rect x="372.20" y="768.41" width="29.82" height="20.99" fill="#b2bcd4"/>
<rect x="401.72" y="768.41" width="29.82" height="20.99" fill="#526da2"/>
<rect x="431.24" y="768.41" width="29.82" height="20.99" fill="#ffffff"/>
<rect x="460.76" y="768.41" width="29.82" height="20.99" fill="#b26765"/>
<rect x="490.28" y="768.41" width="29.82" height="20.99" fill="#eff1f7"/>
<rect x="519.80" y="768.41" width="29.82" height="20.99" fill="#ca8a86"/>
<rect x="549.32" y="768.41" width="29.82" height="20.99" fill="#c7cfe0"/>
<rect x="578.84" y="768.41" width="29.82" height="20.99" fill="#f7e7e4"/>
<rect x="608.36" y="768.41" width="29.82" height="20.99" fill="#f3dcd9"/>
<rect x="637.88" y="768.41" width="29.82" height="20.99" fill="#f1d8d4"/>
<rect x="667.40" y="768.41" width="29.82" height="20.99" fill="#e5bcb8"/>
<rect x="696.92" y="768.41" width="29.82" height="20.99" fill="#eccbc6"/>
<rect x="726.44" y="768.41" width="29.82" height="20.99" fill="#acb7d0"/>
<rect x="755.96" y="768.41" width="29.82" height="20.99" fill="#a1aecb"/>
<rect x="785.48" y="768.41" width="29.82" height="20.99" fill="#8999bc"/>
</g>
<circle cx="741.2" cy="693.2" r="1.8" fill="#000"/>
<path d="M180.32,379.05L181.17,381.17L183.46,381.33L181.70,382.79L182.26,385.01L180.32,383.80L178.38,385.01L178.94,382.79L177.18,381.33L179.47,381.17ZM262.28,379.05L263.13,381.17L265.42,381.33L263.66,382.79L264.22,385.01L262.28,383.80L260.34,385.01L260.90,382.79L259.14,381.33L261.43,381.17ZM268.88,379.05L269.73,381.17L272.02,381.33L270.26,382.79L270.82,385.01L268.88,383.80L266.94,385.01L267.50,382.79L265.74,381.33L268.03,381.17ZM275.48,379.05L276.33,381.17L278.62,381.33L276.86,382.79L277.42,385.01L275.48,383.80L273.54,385.01L274.10,382.79L272.34,381.33L274.63,381.17ZM298.40,379.05L299.25,381.17L301.54,381.33L299.78,382.79L300.34,385.01L298.40,383.80L296.46,385.01L297.02,382.79L295.26,381.33L297.55,381.17ZM324.62,379.05L325.47,381.17L327.76,381.33L326.00,382.79L326.56,385.01L324.62,383.80L322.68,385.01L323.24,382.79L321.48,381.33L323.77,381.17ZM331.22,379.05L332.07,381.17L334.36,381.33L332.60,382.79L333.16,385.01L331.22,383.80L329.28,385.01L329.84,382.79L328.08,381.33L330.37,381.17ZM354.14,379.05L354.99,381.17L357.28,381.33L355.52,382.79L356.08,385.01L354.14,383.80L352.20,385.01L352.76,382.79L351.00,381.33L353.29,381.17ZM360.74,379.05L361.59,381.17L363.88,381.33L362.12,382.79L362.68,385.01L360.74,383.80L358.80,385.01L359.36,382.79L357.60,381.33L359.89,381.17ZM383.66,379.05L384.51,381.17L386.80,381.33L385.04,382.79L385.60,385.01L383.66,383.80L381.72,385.01L382.28,382.79L380.52,381.33L382.81,381.17ZM390.26,379.05L391.11,381.17L393.40,381.33L391.64,382.79L392.20,385.01L390.26,383.80L388.32,385.01L388.88,382.79L387.12,381.33L389.41,381.17ZM413.18,379.05L414.03,381.17L416.32,381.33L414.56,382.79L415.12,385.01L413.18,383.80L411.24,385.01L411.80,382.79L410.04,381.33L412.33,381.17ZM419.78,379.05L420.63,381.17L422.92,381.33L421.16,382.79L421.72,385.01L419.78,383.80L417.84,385.01L418.40,382.79L416.64,381.33L418.93,381.17ZM472.22,379.05L473.07,381.17L475.36,381.33L473.60,382.79L474.16,385.01L472.22,383.80L470.28,385.01L470.84,382.79L469.08,381.33L471.37,381.17ZM478.82,379.05L479.67,381.17L481.96,381.33L480.20,382.79L480.76,385.01L478.82,383.80L476.88,385.01L477.44,382.79L475.68,381.33L477.97,381.17ZM531.26,379.05L532.11,381.17L534.40,381.33L532.64,382.79L533.20,385.01L531.26,383.80L529.32,385.01L529.88,382.79L528.12,381.33L530.41,381.17ZM537.86,379.05L538.71,381.17L541.00,381.33L539.24,382.79L539.80,385.01L537.86,383.80L535.92,385.01L536.48,382.79L534.72,381.33L537.01,381.17ZM564.08,379.05L564.93,381.17L567.22,381.33L565.46,382.79L566.02,385.01L564.08,383.80L562.14,385.01L562.70,382.79L560.94,381.33L563.23,381.17ZM180.32,399.74L181.17,401.86L183.46,402.02L181.70,403.48L182.26,405.70L180.32,404.49L178.38,405.70L178.94,403.48L177.18,402.02L179.47,401.86ZM262.28,399.74L263.13,401.86L265.42,402.02L263.66,403.48L264.22,405.70L262.28,404.49L260.34,405.70L260.90,403.48L259.14,402.02L261.43,401.86ZM268.88,399.74L269.73,401.86L272.02,402.02L270.26,403.48L270.82,405.70L268.88,404.49L266.94,405.70L267.50,403.48L265.74,402.02L268.03,401.86ZM275.48,399.74L276.33,401.86L278.62,402.02L276.86,403.48L277.42,405.70L275.48,404.49L273.54,405.70L274.10,403.48L272.34,402.02L274.63,401.86ZM298.40,399.74L299.25,401.86L301.54,402.02L299.78,403.48L300.34,405.70L298.40,404.49L296.46,405.70L297.02,403.48L295.26,402.02L297.55,401.86ZM324.62,399.74L325.47,401.86L327.76,402.02L326.00,403.48L326.56,405.70L324.62,404.49L322.68,405.70L323.24,403.48L321.48,402.02L323.77,401.86ZM331.22,399.74L332.07,401.86L334.36,402.02L332.60,403.48L333.16,405.70L331.22,404.49L329.28,405.70L329.84,403.48L328.08,402.02L330.37,401.86ZM354.14,399.74L354.99,401.86L357.28,402.02L355.52,403.48L356.08,405.70L354.14,404.49L352.20,405.70L352.76,403.48L351.00,402.02L353.29,401.86ZM360.74,399.74L361.59,401.86L363.88,402.02L362.12,403.48L362.68,405.70L360.74,404.49L358.80,405.70L359.36,403.48L357.60,402.02L359.89,401.86ZM383.66,399.74L384.51,401.86L386.80,402.02L385.04,403.48L385.60,405.70L383.66,404.49L381.72,405.70L382.28,403.48L380.52,402.02L382.81,401.86ZM390.26,399.74L391.11,401.86L393.40,402.02L391.64,403.48L392.20,405.70L390.26,404.49L388.32,405.70L388.88,403.48L387.12,402.02L389.41,401.86ZM413.18,399.74L414.03,401.86L416.32,402.02L414.56,403.48L415.12,405.70L413.18,404.49L411.24,405.70L411.80,403.48L410.04,402.02L412.33,401.86ZM419.78,399.74L420.63,401.86L422.92,402.02L421.16,403.48L421.72,405.70L419.78,404.49L417.84,405.70L418.40,403.48L416.64,402.02L418.93,401.86ZM472.22,399.74L473.07,401.86L475.36,402.02L473.60,403.48L474.16,405.70L472.22,404.49L470.28,405.70L470.84,403.48L469.08,402.02L471.37,401.86ZM478.82,399.74L479.67,401.86L481.96,402.02L480.20,403.48L480.76,405.70L478.82,404.49L476.88,405.70L477.44,403.48L475.68,402.02L477.97,401.86ZM531.26,399.74L532.11,401.86L534.40,402.02L532.64,403.48L533.20,405.70L531.26,404.49L529.32,405.70L529.88,403.48L528.12,402.02L530.41,401.86ZM537.86,399.74L538.71,401.86L541.00,402.02L539.24,403.48L539.80,405.70L537.86,404.49L535.92,405.70L536.48,403.48L534.72,402.02L537.01,401.86ZM564.08,399.74L564.93,401.86L567.22,402.02L565.46,403.48L566.02,405.70L564.08,404.49L562.14,405.70L562.70,403.48L560.94,402.02L563.23,401.86ZM180.32,420.43L181.17,422.55L183.46,422.71L181.70,424.17L182.26,426.39L180.32,425.18L178.38,426.39L178.94,424.17L177.18,422.71L179.47,422.55ZM262.28,420.43L263.13,422.55L265.42,422.71L263.66,424.17L264.22,426.39L262.28,425.18L260.34,426.39L260.90,424.17L259.14,422.71L261.43,422.55ZM268.88,420.43L269.73,422.55L272.02,422.71L270.26,424.17L270.82,426.39L268.88,425.18L266.94,426.39L267.50,424.17L265.74,422.71L268.03,422.55ZM275.48,420.43L276.33,422.55L278.62,422.71L276.86,424.17L277.42,426.39L275.48,425.18L273.54,426.39L274.10,424.17L272.34,422.71L274.63,422.55ZM298.40,420.43L299.25,422.55L301.54,422.71L299.78,424.17L300.34,426.39L298.40,425.18L296.46,426.39L297.02,424.17L295.26,422.71L297.55,422.55ZM324.62,420.43L325.47,422.55L327.76,422.71L326.00,424.17L326.56,426.39L324.62,425.18L322.68,426.39L323.24,424.17L321.48,422.71L323.77,422.55ZM331.22,420.43L332.07,422.55L334.36,422.71L332.60,424.17L333.16,426.39L331.22,425.18L329.28,426.39L329.84,424.17L328.08,422.71L330.37,422.55ZM354.14,420.43L354.99,422.55L357.28,422.71L355.52,424.17L356.08,426.39L354.14,425.18L352.20,426.39L352.76,424.17L351.00,422.71L353.29,422.55ZM360.74,420.43L361.59,422.55L363.88,422.71L362.12,424.17L362.68,426.39L360.74,425.18L358.80,426.39L359.36,424.17L357.60,422.71L359.89,422.55ZM383.66,420.43L384.51,422.55L386.80,422.71L385.04,424.17L385.60,426.39L383.66,425.18L381.72,426.39L382.28,424.17L380.52,422.71L382.81,422.55ZM390.26,420.43L391.11,422.55L393.40,422.71L391.64,424.17L392.20,426.39L390.26,425.18L388.32,426.39L388.88,424.17L387.12,422.71L389.41,422.55ZM413.18,420.43L414.03,422.55L416.32,422.71L414.56,424.17L415.12,426.39L413.18,425.18L411.24,426.39L411.80,424.17L410.04,422.71L412.33,422.55ZM419.78,420.43L420.63,422.55L422.92,422.71L421.16,424.17L421.72,426.39L419.78,425.18L417.84,426.39L418.40,424.17L416.64,422.71L418.93,422.55ZM468.92,420.43L469.77,422.55L472.06,422.71L470.30,424.17L470.86,426.39L468.92,425.18L466.98,426.39L467.54,424.17L465.78,422.71L468.07,422.55ZM475.52,420.43L476.37,422.55L478.66,422.71L476.90,424.17L477.46,426.39L475.52,425.18L473.58,426.39L474.14,424.17L472.38,422.71L474.67,422.55ZM482.12,420.43L482.97,422.55L485.26,422.71L483.50,424.17L484.06,426.39L482.12,425.18L480.18,426.39L480.74,424.17L478.98,422.71L481.27,422.55ZM531.26,420.43L532.11,422.55L534.40,422.71L532.64,424.17L533.20,426.39L531.26,425.18L529.32,426.39L529.88,424.17L528.12,422.71L530.41,422.55ZM537.86,420.43L538.71,422.55L541.00,422.71L539.24,424.17L539.80,426.39L537.86,425.18L535.92,426.39L536.48,424.17L534.72,422.71L537.01,422.55ZM564.08,420.43L564.93,422.55L567.22,422.71L565.46,424.17L566.02,426.39L564.08,425.18L562.14,426.39L562.70,424.17L560.94,422.71L563.23,422.55ZM180.32,441.12L181.17,443.24L183.46,443.40L181.70,444.86L182.26,447.08L180.32,445.87L178.38,447.08L178.94,444.86L177.18,443.40L179.47,443.24ZM262.28,441.12L263.13,443.24L265.42,443.40L263.66,444.86L264.22,447.08L262.28,445.87L260.34,447.08L260.90,444.86L259.14,443.40L261.43,443.24ZM268.88,441.12L269.73,443.24L272.02,443.40L270.26,444.86L270.82,447.08L268.88,445.87L266.94,447.08L267.50,444.86L265.74,443.40L268.03,443.24ZM275.48,441.12L276.33,443.24L278.62,443.40L276.86,444.86L277.42,447.08L275.48,445.87L273.54,447.08L274.10,444.86L272.34,443.40L274.63,443.24ZM298.40,441.12L299.25,443.24L301.54,443.40L299.78,444.86L300.34,447.08L298.40,445.87L296.46,447.08L297.02,444.86L295.26,443.40L297.55,443.24ZM324.62,441.12L325.47,443.24L327.76,443.40L326.00,444.86L326.56,447.08L324.62,445.87L322.68,447.08L323.24,444.86L321.48,443.40L323.77,443.24ZM331.22,441.12L332.07,443.24L334.36,443.40L332.60,444.86L333.16,447.08L331.22,445.87L329.28,447.08L329.84,444.86L328.08,443.40L330.37,443.24ZM354.14,441.12L354.99,443.24L357.28,443.40L355.52,444.86L356.08,447.08L354.14,445.87L352.20,447.08L352.76,444.86L351.00,443.40L353.29,443.24ZM360.74,441.12L361.59,443.24L363.88,443.40L362.12,444.86L362.68,447.08L360.74,445.87L358.80,447.08L359.36,444.86L357.60,443.40L359.89,443.24ZM383.66,441.12L384.51,443.24L386.80,443.40L385.04,444.86L385.60,447.08L383.66,445.87L381.72,447.08L382.28,444.86L380.52,443.40L382.81,443.24ZM390.26,441.12L391.11,443.24L393.40,443.40L391.64,444.86L392.20,447.08L390.26,445.87L388.32,447.08L388.88,444.86L387.12,443.40L389.41,443.24ZM413.18,441.12L414.03,443.24L416.32,443.40L414.56,444.86L415.12,447.08L413.18,445.87L411.24,447.08L411.80,444.86L410.04,443.40L412.33,443.24ZM419.78,441.12L420.63,443.24L422.92,443.40L421.16,444.86L421.72,447.08L419.78,445.87L417.84,447.08L418.40,444.86L416.64,443.40L418.93,443.24ZM468.92,441.12L469.77,443.24L472.06,443.40L470.30,444.86L470.86,447.08L468.92,445.87L466.98,447.08L467.54,444.86L465.78,443.40L468.07,443.24ZM475.52,441.12L476.37,443.24L478.66,443.40L476.90,444.86L477.46,447.08L475.52,445.87L473.58,447.08L474.14,444.86L472.38,443.40L474.67,443.24ZM482.12,441.12L482.97,443.24L485.26,443.40L483.50,444.86L484.06,447.08L482.12,445.87L480.18,447.08L480.74,444.86L478.98,443.40L481.27,443.24ZM531.26,441.12L532.11,443.24L534.40,443.40L532.64,444.86L533.20,447.08L531.26,445.87L529.32,447.08L529.88,444.86L528.12,443.40L530.41,443.24ZM537.86,441.12L538.71,443.24L541.00,443.40L539.24,444.86L539.80,447.08L537.86,445.87L535.92,447.08L536.48,444.86L534.72,443.40L537.01,443.24ZM564.08,441.12L564.93,443.24L567.22,443.40L565.46,444.86L566.02,447.08L564.08,445.87L562.14,447.08L562.70,444.86L560.94,443.40L563.23,443.24ZM180.32,461.81L181.17,463.93L183.46,464.09L181.70,465.55L182.26,467.77L180.32,466.56L178.38,467.77L178.94,465.55L177.18,464.09L179.47,463.93ZM262.28,461.81L263.13,463.93L265.42,464.09L263.66,465.55L264.22,467.77L262.28,466.56L260.34,467.77L260.90,465.55L259.14,464.09L261.43,463.93ZM268.88,461.81L269.73,463.93L272.02,464.09L270.26,465.55L270.82,467.77L268.88,466.56L266.94,467.77L267.50,465.55L265.74,464.09L268.03,463.93ZM275.48,461.81L276.33,463.93L278.62,464.09L276.86,465.55L277.42,467.77L275.48,466.56L273.54,467.77L274.10,465.55L272.34,464.09L274.63,463.93ZM298.40,461.81L299.25,463.93L301.54,464.09L299.78,465.55L300.34,467.77L298.40,466.56L296.46,467.77L297.02,465.55L295.26,464.09L297.55,463.93ZM324.62,461.81L325.47,463.93L327.76,464.09L326.00,465.55L326.56,467.77L324.62,466.56L322.68,467.77L323.24,465.55L321.48,464.09L323.77,463.93ZM331.22,461.81L332.07,463.93L334.36,464.09L332.60,465.55L333.16,467.77L331.22,466.56L329.28,467.77L329.84,465.55L328.08,464.09L330.37,463.93ZM354.14,461.81L354.99,463.93L357.28,464.09L355.52,465.55L356.08,467.77L354.14,466.56L352.20,467.77L352.76,465.55L351.00,464.09L353.29,463.93ZM360.74,461.81L361.59,463.93L363.88,464.09L362.12,465.55L362.68,467.77L360.74,466.56L358.80,467.77L359.36,465.55L357.60,464.09L359.89,463.93ZM383.66,461.81L384.51,463.93L386.80,464.09L385.04,465.55L385.60,467.77L383.66,466.56L381.72,467.77L382.28,465.55L380.52,464.09L382.81,463.93ZM390.26,461.81L391.11,463.93L393.40,464.09L391.64,465.55L392.20,467.77L390.26,466.56L388.32,467.77L388.88,465.55L387.12,464.09L389.41,463.93ZM413.18,461.81L414.03,463.93L416.32,464.09L414.56,465.55L415.12,467.77L413.18,466.56L411.24,467.77L411.80,465.55L410.04,464.09L412.33,463.93ZM419.78,461.81L420.63,463.93L422.92,464.09L421.16,465.55L421.72,467.77L419.78,466.56L417.84,467.77L418.40,465.55L416.64,464.09L418.93,463.93ZM468.92,461.81L469.77,463.93L472.06,464.09L470.30,465.55L470.86,467.77L468.92,466.56L466.98,467.77L467.54,465.55L465.78,464.09L468.07,463.93ZM475.52,461.81L476.37,463.93L478.66,464.09L476.90,465.55L477.46,467.77L475.52,466.56L473.58,467.77L474.14,465.55L472.38,464.09L474.67,463.93ZM482.12,461.81L482.97,463.93L485.26,464.09L483.50,465.55L484.06,467.77L482.12,466.56L480.18,467.77L480.74,465.55L478.98,464.09L481.27,463.93ZM531.26,461.81L532.11,463.93L534.40,464.09L532.64,465.55L533.20,467.77L531.26,466.56L529.32,467.77L529.88,465.55L528.12,464.09L530.41,463.93ZM537.86,461.81L538.71,463.93L541.00,464.09L539.24,465.55L539.80,467.77L537.86,466.56L535.92,467.77L536.48,465.55L534.72,464.09L537.01,463.93ZM564.08,461.81L564.93,463.93L567.22,464.09L565.46,465.55L566.02,467.77L564.08,466.56L562.14,467.77L562.70,465.55L560.94,464.09L563.23,463.93ZM265.58,482.50L266.43,484.62L268.72,484.78L266.96,486.24L267.52,488.46L265.58,487.25L263.64,488.46L264.20,486.24L262.44,484.78L264.73,484.62ZM272.18,482.50L273.03,484.62L275.32,484.78L273.56,486.24L274.12,488.46L272.18,487.25L270.24,488.46L270.80,486.24L269.04,484.78L271.33,484.62ZM298.40,482.50L299.25,484.62L301.54,484.78L299.78,486.24L300.34,488.46L298.40,487.25L296.46,488.46L297.02,486.24L295.26,484.78L297.55,484.62ZM321.32,482.50L322.17,484.62L324.46,484.78L322.70,486.24L323.26,488.46L321.32,487.25L319.38,488.46L319.94,486.24L318.18,484.78L320.47,484.62ZM327.92,482.50L328.77,484.62L331.06,484.78L329.30,486.24L329.86,488.46L327.92,487.25L325.98,488.46L326.54,486.24L324.78,484.78L327.07,484.62ZM334.52,482.50L335.37,484.62L337.66,484.78L335.90,486.24L336.46,488.46L334.52,487.25L332.58,488.46L333.14,486.24L331.38,484.78L333.67,484.62ZM354.14,482.50L354.99,484.62L357.28,484.78L355.52,486.24L356.08,488.46L354.14,487.25L352.20,488.46L352.76,486.24L351.00,484.78L353.29,484.62ZM360.74,482.50L361.59,484.62L363.88,484.78L362.12,486.24L362.68,488.46L360.74,487.25L358.80,488.46L359.36,486.24L357.60,484.78L359.89,484.62ZM380.36,482.50L381.21,484.62L383.50,484.78L381.74,486.24L382.30,488.46L380.36,487.25L378.42,488.46L378.98,486.24L377.22,484.78L379.51,484.62ZM386.96,482.50L387.81,484.62L390.10,484.78L388.34,486.24L388.90,488.46L386.96,487.25L385.02,488.46L385.58,486.24L383.82,484.78L386.11,484.62ZM393.56,482.50L394.41,484.62L396.70,484.78L394.94,486.24L395.50,488.46L393.56,487.25L391.62,488.46L392.18,486.24L390.42,484.78L392.71,484.62ZM413.18,482.50L414.03,484.62L416.32,484.78L414.56,486.24L415.12,488.46L413.18,487.25L411.24,488.46L411.80,486.24L410.04,484.78L412.33,484.62ZM419.78,482.50L420.63,484.62L422.92,484.78L421.16,486.24L421.72,488.46L419.78,487.25L417.84,488.46L418.40,486.24L416.64,484.78L418.93,484.62ZM468.92,482.50L469.77,484.62L472.06,484.78L470.30,486.24L470.86,488.46L468.92,487.25L466.98,488.46L467.54,486.24L465.78,484.78L468.07,484.62ZM475.52,482.50L476.37,484.62L478.66,484.78L476.90,486.24L477.46,488.46L475.52,487.25L473.58,488.46L474.14,486.24L472.38,484.78L474.67,484.62ZM482.12,482.50L482.97,484.62L485.26,484.78L483.50,486.24L484.06,488.46L482.12,487.25L480.18,488.46L480.74,486.24L478.98,484.78L481.27,484.62ZM531.26,482.50L532.11,484.62L534.40,484.78L532.64,486.24L533.20,488.46L531.26,487.25L529.32,488.46L529.88,486.24L528.12,484.78L530.41,484.62ZM537.86,482.50L538.71,484.62L541.00,484.78L539.24,486.24L539.80,488.46L537.86,487.25L535.92,488.46L536.48,486.24L534.72,484.78L537.01,484.62ZM564.08,482.50L564.93,484.62L567.22,484.78L565.46,486.24L566.02,488.46L564.08,487.25L562.14,488.46L562.70,486.24L560.94,484.78L563.23,484.62ZM265.58,503.19L266.43,505.31L268.72,505.47L266.96,506.93L267.52,509.15L265.58,507.94L263.64,509.15L264.20,506.93L262.44,505.47L264.73,505.31ZM272.18,503.19L273.03,505.31L275.32,505.47L273.56,506.93L274.12,509.15L272.18,507.94L270.24,509.15L270.80,506.93L269.04,505.47L271.33,505.31ZM298.40,503.19L299.25,505.31L301.54,505.47L299.78,506.93L300.34,509.15L298.40,507.94L296.46,509.15L297.02,506.93L295.26,505.47L297.55,505.31ZM321.32,503.19L322.17,505.31L324.46,505.47L322.70,506.93L323.26,509.15L321.32,507.94L319.38,509.15L319.94,506.93L318.18,505.47L320.47,505.31ZM327.92,503.19L328.77,505.31L331.06,505.47L329.30,506.93L329.86,509.15L327.92,507.94L325.98,509.15L326.54,506.93L324.78,505.47L327.07,505.31ZM334.52,503.19L335.37,505.31L337.66,505.47L335.90,506.93L336.46,509.15L334.52,507.94L332.58,509.15L333.14,506.93L331.38,505.47L333.67,505.31ZM354.14,503.19L354.99,505.31L357.28,505.47L355.52,506.93L356.08,509.15L354.14,507.94L352.20,509.15L352.76,506.93L351.00,505.47L353.29,505.31ZM360.74,503.19L361.59,505.31L363.88,505.47L362.12,506.93L362.68,509.15L360.74,507.94L358.80,509.15L359.36,506.93L357.60,505.47L359.89,505.31ZM380.36,503.19L381.21,505.31L383.50,505.47L381.74,506.93L382.30,509.15L380.36,507.94L378.42,509.15L378.98,506.93L377.22,505.47L379.51,505.31ZM386.96,503.19L387.81,505.31L390.10,505.47L388.34,506.93L388.90,509.15L386.96,507.94L385.02,509.15L385.58,506.93L383.82,505.47L386.11,505.31ZM393.56,503.19L394.41,505.31L396.70,505.47L394.94,506.93L395.50,509.15L393.56,507.94L391.62,509.15L392.18,506.93L390.42,505.47L392.71,505.31ZM413.18,503.19L414.03,505.31L416.32,505.47L414.56,506.93L415.12,509.15L413.18,507.94L411.24,509.15L411.80,506.93L410.04,505.47L412.33,505.31ZM419.78,503.19L420.63,505.31L422.92,505.47L421.16,506.93L421.72,509.15L419.78,507.94L417.84,509.15L418.40,506.93L416.64,505.47L418.93,505.31ZM468.92,503.19L469.77,505.31L472.06,505.47L470.30,506.93L470.86,509.15L468.92,507.94L466.98,509.15L467.54,506.93L465.78,505.47L468.07,505.31ZM475.52,503.19L476.37,505.31L478.66,505.47L476.90,506.93L477.46,509.15L475.52,507.94L473.58,509.15L474.14,506.93L472.38,505.47L474.67,505.31ZM482.12,503.19L482.97,505.31L485.26,505.47L483.50,506.93L484.06,509.15L482.12,507.94L480.18,509.15L480.74,506.93L478.98,505.47L481.27,505.31ZM531.26,503.19L532.11,505.31L534.40,505.47L532.64,506.93L533.20,509.15L531.26,507.94L529.32,509.15L529.88,506.93L528.12,505.47L530.41,505.31ZM537.86,503.19L538.71,505.31L541.00,505.47L539.24,506.93L539.80,509.15L537.86,507.94L535.92,509.15L536.48,506.93L534.72,505.47L537.01,505.31ZM564.08,503.19L564.93,505.31L567.22,505.47L565.46,506.93L566.02,509.15L564.08,507.94L562.14,509.15L562.70,506.93L560.94,505.47L563.23,505.31ZM265.58,523.88L266.43,526.00L268.72,526.16L266.96,527.62L267.52,529.84L265.58,528.63L263.64,529.84L264.20,527.62L262.44,526.16L264.73,526.00ZM272.18,523.88L273.03,526.00L275.32,526.16L273.56,527.62L274.12,529.84L272.18,528.63L270.24,529.84L270.80,527.62L269.04,526.16L271.33,526.00ZM298.40,523.88L299.25,526.00L301.54,526.16L299.78,527.62L300.34,529.84L298.40,528.63L296.46,529.84L297.02,527.62L295.26,526.16L297.55,526.00ZM321.32,523.88L322.17,526.00L324.46,526.16L322.70,527.62L323.26,529.84L321.32,528.63L319.38,529.84L319.94,527.62L318.18,526.16L320.47,526.00ZM327.92,523.88L328.77,526.00L331.06,526.16L329.30,527.62L329.86,529.84L327.92,528.63L325.98,529.84L326.54,527.62L324.78,526.16L327.07,526.00ZM334.52,523.88L335.37,526.00L337.66,526.16L335.90,527.62L336.46,529.84L334.52,528.63L332.58,529.84L333.14,527.62L331.38,526.16L333.67,526.00ZM354.14,523.88L354.99,526.00L357.28,526.16L355.52,527.62L356.08,529.84L354.14,528.63L352.20,529.84L352.76,527.62L351.00,526.16L353.29,526.00ZM360.74,523.88L361.59,526.00L363.88,526.16L362.12,527.62L362.68,529.84L360.74,528.63L358.80,529.84L359.36,527.62L357.60,526.16L359.89,526.00ZM380.36,523.88L381.21,526.00L383.50,526.16L381.74,527.62L382.30,529.84L380.36,528.63L378.42,529.84L378.98,527.62L377.22,526.16L379.51,526.00ZM386.96,523.88L387.81,526.00L390.10,526.16L388.34,527.62L388.90,529.84L386.96,528.63L385.02,529.84L385.58,527.62L383.82,526.16L386.11,526.00ZM393.56,523.88L394.41,526.00L396.70,526.16L394.94,527.62L395.50,529.84L393.56,528.63L391.62,529.84L392.18,527.62L390.42,526.16L392.71,526.00ZM413.18,523.88L414.03,526.00L416.32,526.16L414.56,527.62L415.12,529.84L413.18,528.63L411.24,529.84L411.80,527.62L410.04,526.16L412.33,526.00ZM419.78,523.88L420.63,526.00L422.92,526.16L421.16,527.62L421.72,529.84L419.78,528.63L417.84,529.84L418.40,527.62L416.64,526.16L418.93,526.00ZM468.92,523.88L469.77,526.00L472.06,526.16L470.30,527.62L470.86,529.84L468.92,528.63L466.98,529.84L467.54,527.62L465.78,526.16L468.07,526.00ZM475.52,523.88L476.37,526.00L478.66,526.16L476.90,527.62L477.46,529.84L475.52,528.63L473.58,529.84L474.14,527.62L472.38,526.16L474.67,526.00ZM482.12,523.88L482.97,526.00L485.26,526.16L483.50,527.62L484.06,529.84L482.12,528.63L480.18,529.84L480.74,527.62L478.98,526.16L481.27,526.00ZM527.96,523.88L528.81,526.00L531.10,526.16L529.34,527.62L529.90,529.84L527.96,528.63L526.02,529.84L526.58,527.62L524.82,526.16L527.11,526.00ZM534.56,523.88L535.41,526.00L537.70,526.16L535.94,527.62L536.50,529.84L534.56,528.63L532.62,529.84L533.18,527.62L531.42,526.16L533.71,526.00ZM541.16,523.88L542.01,526.00L544.30,526.16L542.54,527.62L543.10,529.84L541.16,528.63L539.22,529.84L539.78,527.62L538.02,526.16L540.31,526.00ZM564.08,523.88L564.93,526.00L567.22,526.16L565.46,527.62L566.02,529.84L564.08,528.63L562.14,529.84L562.70,527.62L560.94,526.16L563.23,526.00ZM265.58,544.57L266.43,546.69L268.72,546.85L266.96,548.31L267.52,550.53L265.58,549.32L263.64,550.53L264.20,548.31L262.44,546.85L264.73,546.69ZM272.18,544.57L273.03,546.69L275.32,546.85L273.56,548.31L274.12,550.53L272.18,549.32L270.24,550.53L270.80,548.31L269.04,546.85L271.33,546.69ZM298.40,544.57L299.25,546.69L301.54,546.85L299.78,548.31L300.34,550.53L298.40,549.32L296.46,550.53L297.02,548.31L295.26,546.85L297.55,546.69ZM321.32,544.57L322.17,546.69L324.46,546.85L322.70,548.31L323.26,550.53L321.32,549.32L319.38,550.53L319.94,548.31L318.18,546.85L320.47,546.69ZM327.92,544.57L328.77,546.69L331.06,546.85L329.30,548.31L329.86,550.53L327.92,549.32L325.98,550.53L326.54,548.31L324.78,546.85L327.07,546.69ZM334.52,544.57L335.37,546.69L337.66,546.85L335.90,548.31L336.46,550.53L334.52,549.32L332.58,550.53L333.14,548.31L331.38,546.85L333.67,546.69ZM354.14,544.57L354.99,546.69L357.28,546.85L355.52,548.31L356.08,550.53L354.14,549.32L352.20,550.53L352.76,548.31L351.00,546.85L353.29,546.69ZM360.74,544.57L361.59,546.69L363.88,546.85L362.12,548.31L362.68,550.53L360.74,549.32L358.80,550.53L359.36,548.31L357.60,546.85L359.89,546.69ZM380.36,544.57L381.21,546.69L383.50,546.85L381.74,548.31L382.30,550.53L380.36,549.32L378.42,550.53L378.98,548.31L377.22,546.85L379.51,546.69ZM386.96,544.57L387.81,546.69L390.10,546.85L388.34,548.31L388.90,550.53L386.96,549.32L385.02,550.53L385.58,548.31L383.82,546.85L386.11,546.69ZM393.56,544.57L394.41,546.69L396.70,546.85L394.94,548.31L395.50,550.53L393.56,549.32L391.62,550.53L392.18,548.31L390.42,546.85L392.71,546.69ZM413.18,544.57L414.03,546.69L416.32,546.85L414.56,548.31L415.12,550.53L413.18,549.32L411.24,550.53L411.80,548.31L410.04,546.85L412.33,546.69ZM419.78,544.57L420.63,546.69L422.92,546.85L421.16,548.31L421.72,550.53L419.78,549.32L417.84,550.53L418.40,548.31L416.64,546.85L418.93,546.69ZM468.92,544.57L469.77,546.69L472.06,546.85L470.30,548.31L470.86,550.53L468.92,549.32L466.98,550.53L467.54,548.31L465.78,546.85L468.07,546.69ZM475.52,544.57L476.37,546.69L478.66,546.85L476.90,548.31L477.46,550.53L475.52,549.32L473.58,550.53L474.14,548.31L472.38,546.85L474.67,546.69ZM482.12,544.57L482.97,546.69L485.26,546.85L483.50,548.31L484.06,550.53L482.12,549.32L480.18,550.53L480.74,548.31L478.98,546.85L481.27,546.69ZM527.96,544.57L528.81,546.69L531.10,546.85L529.34,548.31L529.90,550.53L527.96,549.32L526.02,550.53L526.58,548.31L524.82,546.85L527.11,546.69ZM534.56,544.57L535.41,546.69L537.70,546.85L535.94,548.31L536.50,550.53L534.56,549.32L532.62,550.53L533.18,548.31L531.42,546.85L533.71,546.69ZM541.16,544.57L542.01,546.69L544.30,546.85L542.54,548.31L543.10,550.53L541.16,549.32L539.22,550.53L539.78,548.31L538.02,546.85L540.31,546.69ZM564.08,544.57L564.93,546.69L567.22,546.85L565.46,548.31L566.02,550.53L564.08,549.32L562.14,550.53L562.70,548.31L560.94,546.85L563.23,546.69ZM741.20,544.57L742.05,546.69L744.34,546.85L742.58,548.31L743.14,550.53L741.20,549.32L739.26,550.53L739.82,548.31L738.06,546.85L740.35,546.69ZM91.76,565.26L92.61,567.38L94.90,567.54L93.14,569.00L93.70,571.22L91.76,570.01L89.82,571.22L90.38,569.00L88.62,567.54L90.91,567.38ZM265.58,565.26L266.43,567.38L268.72,567.54L266.96,569.00L267.52,571.22L265.58,570.01L263.64,571.22L264.20,569.00L262.44,567.54L264.73,567.38ZM272.18,565.26L273.03,567.38L275.32,567.54L273.56,569.00L274.12,571.22L272.18,570.01L270.24,571.22L270.80,569.00L269.04,567.54L271.33,567.38ZM295.10,565.26L295.95,567.38L298.24,567.54L296.48,569.00L297.04,571.22L295.10,570.01L293.16,571.22L293.72,569.00L291.96,567.54L294.25,567.38ZM301.70,565.26L302.55,567.38L304.84,567.54L303.08,569.00L303.64,571.22L301.70,570.01L299.76,571.22L300.32,569.00L298.56,567.54L300.85,567.38ZM321.32,565.26L322.17,567.38L324.46,567.54L322.70,569.00L323.26,571.22L321.32,570.01L319.38,571.22L319.94,569.00L318.18,567.54L320.47,567.38ZM327.92,565.26L328.77,567.38L331.06,567.54L329.30,569.00L329.86,571.22L327.92,570.01L325.98,571.22L326.54,569.00L324.78,567.54L327.07,567.38ZM334.52,565.26L335.37,567.38L337.66,567.54L335.90,569.00L336.46,571.22L334.52,570.01L332.58,571.22L333.14,569.00L331.38,567.54L333.67,567.38ZM350.84,565.26L351.69,567.38L353.98,567.54L352.22,569.00L352.78,571.22L350.84,570.01L348.90,571.22L349.46,569.00L347.70,567.54L349.99,567.38ZM357.44,565.26L358.29,567.38L360.58,567.54L358.82,569.00L359.38,571.22L357.44,570.01L355.50,571.22L356.06,569.00L354.30,567.54L356.59,567.38ZM364.04,565.26L364.89,567.38L367.18,567.54L365.42,569.00L365.98,571.22L364.04,570.01L362.10,571.22L362.66,569.00L360.90,567.54L363.19,567.38ZM380.36,565.26L381.21,567.38L383.50,567.54L381.74,569.00L382.30,571.22L380.36,570.01L378.42,571.22L378.98,569.00L377.22,567.54L379.51,567.38ZM386.96,565.26L387.81,567.38L390.10,567.54L388.34,569.00L388.90,571.22L386.96,570.01L385.02,571.22L385.58,569.00L383.82,567.54L386.11,567.38ZM393.56,565.26L394.41,567.38L396.70,567.54L394.94,569.00L395.50,571.22L393.56,570.01L391.62,571.22L392.18,569.00L390.42,567.54L392.71,567.38ZM409.88,565.26L410.73,567.38L413.02,567.54L411.26,569.00L411.82,571.22L409.88,570.01L407.94,571.22L408.50,569.00L406.74,567.54L409.03,567.38ZM416.48,565.26L417.33,567.38L419.62,567.54L417.86,569.00L418.42,571.22L416.48,570.01L414.54,571.22L415.10,569.00L413.34,567.54L415.63,567.38ZM423.08,565.26L423.93,567.38L426.22,567.54L424.46,569.00L425.02,571.22L423.08,570.01L421.14,571.22L421.70,569.00L419.94,567.54L422.23,567.38ZM468.92,565.26L469.77,567.38L472.06,567.54L470.30,569.00L470.86,571.22L468.92,570.01L466.98,571.22L467.54,569.00L465.78,567.54L468.07,567.38ZM475.52,565.26L476.37,567.38L478.66,567.54L476.90,569.00L477.46,571.22L475.52,570.01L473.58,571.22L474.14,569.00L472.38,567.54L474.67,567.38ZM482.12,565.26L482.97,567.38L485.26,567.54L483.50,569.00L484.06,571.22L482.12,570.01L480.18,571.22L480.74,569.00L478.98,567.54L481.27,567.38ZM527.96,565.26L528.81,567.38L531.10,567.54L529.34,569.00L529.90,571.22L527.96,570.01L526.02,571.22L526.58,569.00L524.82,567.54L527.11,567.38ZM534.56,565.26L535.41,567.38L537.70,567.54L535.94,569.00L536.50,571.22L534.56,570.01L532.62,571.22L533.18,569.00L531.42,567.54L533.71,567.38ZM541.16,565.26L542.01,567.38L544.30,567.54L542.54,569.00L543.10,571.22L541.16,570.01L539.22,571.22L539.78,569.00L538.02,567.54L540.31,567.38ZM564.08,565.26L564.93,567.38L567.22,567.54L565.46,569.00L566.02,571.22L564.08,570.01L562.14,571.22L562.70,569.00L560.94,567.54L563.23,567.38ZM91.76,585.95L92.61,588.07L94.90,588.23L93.14,589.69L93.70,591.91L91.76,590.70L89.82,591.91L90.38,589.69L88.62,588.23L90.91,588.07ZM265.58,585.95L266.43,588.07L268.72,588.23L266.96,589.69L267.52,591.91L265.58,590.70L263.64,591.91L264.20,589.69L262.44,588.23L264.73,588.07ZM272.18,585.95L273.03,588.07L275.32,588.23L273.56,589.69L274.12,591.91L272.18,590.70L270.24,591.91L270.80,589.69L269.04,588.23L271.33,588.07ZM295.10,585.95L295.95,588.07L298.24,588.23L296.48,589.69L297.04,591.91L295.10,590.70L293.16,591.91L293.72,589.69L291.96,588.23L294.25,588.07ZM301.70,585.95L302.55,588.07L304.84,588.23L303.08,589.69L303.64,591.91L301.70,590.70L299.76,591.91L300.32,589.69L298.56,588.23L300.85,588.07ZM321.32,585.95L322.17,588.07L324.46,588.23L322.70,589.69L323.26,591.91L321.32,590.70L319.38,591.91L319.94,589.69L318.18,588.23L320.47,588.07ZM327.92,585.95L328.77,588.07L331.06,588.23L329.30,589.69L329.86,591.91L327.92,590.70L325.98,591.91L326.54,589.69L324.78,588.23L327.07,588.07ZM334.52,585.95L335.37,588.07L337.66,588.23L335.90,589.69L336.46,591.91L334.52,590.70L332.58,591.91L333.14,589.69L331.38,588.23L333.67,588.07ZM350.84,585.95L351.69,588.07L353.98,588.23L352.22,589.69L352.78,591.91L350.84,590.70L348.90,591.91L349.46,589.69L347.70,588.23L349.99,588.07ZM357.44,585.95L358.29,588.07L360.58,588.23L358.82,589.69L359.38,591.91L357.44,590.70L355.50,591.91L356.06,589.69L354.30,588.23L356.59,588.07ZM364.04,585.95L364.89,588.07L367.18,588.23L365.42,589.69L365.98,591.91L364.04,590.70L362.10,591.91L362.66,589.69L360.90,588.23L363.19,588.07ZM380.36,585.95L381.21,588.07L383.50,588.23L381.74,589.69L382.30,591.91L380.36,590.70L378.42,591.91L378.98,589.69L377.22,588.23L379.51,588.07ZM386.96,585.95L387.81,588.07L390.10,588.23L388.34,589.69L388.90,591.91L386.96,590.70L385.02,591.91L385.58,589.69L383.82,588.23L386.11,588.07ZM393.56,585.95L394.41,588.07L396.70,588.23L394.94,589.69L395.50,591.91L393.56,590.70L391.62,591.91L392.18,589.69L390.42,588.23L392.71,588.07ZM409.88,585.95L410.73,588.07L413.02,588.23L411.26,589.69L411.82,591.91L409.88,590.70L407.94,591.91L408.50,589.69L406.74,588.23L409.03,588.07ZM416.48,585.95L417.33,588.07L419.62,588.23L417.86,589.69L418.42,591.91L416.48,590.70L414.54,591.91L415.10,589.69L413.34,588.23L415.63,588.07ZM423.08,585.95L423.93,588.07L426.22,588.23L424.46,589.69L425.02,591.91L423.08,590.70L421.14,591.91L421.70,589.69L419.94,588.23L422.23,588.07ZM468.92,585.95L469.77,588.07L472.06,588.23L470.30,589.69L470.86,591.91L468.92,590.70L466.98,591.91L467.54,589.69L465.78,588.23L468.07,588.07ZM475.52,585.95L476.37,588.07L478.66,588.23L476.90,589.69L477.46,591.91L475.52,590.70L473.58,591.91L474.14,589.69L472.38,588.23L474.67,588.07ZM482.12,585.95L482.97,588.07L485.26,588.23L483.50,589.69L484.06,591.91L482.12,590.70L480.18,591.91L480.74,589.69L478.98,588.23L481.27,588.07ZM527.96,585.95L528.81,588.07L531.10,588.23L529.34,589.69L529.90,591.91L527.96,590.70L526.02,591.91L526.58,589.69L524.82,588.23L527.11,588.07ZM534.56,585.95L535.41,588.07L537.70,588.23L535.94,589.69L536.50,591.91L534.56,590.70L532.62,591.91L533.18,589.69L531.42,588.23L533.71,588.07ZM541.16,585.95L542.01,588.07L544.30,588.23L542.54,589.69L543.10,591.91L541.16,590.70L539.22,591.91L539.78,589.69L538.02,588.23L540.31,588.07ZM564.08,585.95L564.93,588.07L567.22,588.23L565.46,589.69L566.02,591.91L564.08,590.70L562.14,591.91L562.70,589.69L560.94,588.23L563.23,588.07ZM262.28,606.64L263.13,608.76L265.42,608.92L263.66,610.38L264.22,612.60L262.28,611.39L260.34,612.60L260.90,610.38L259.14,608.92L261.43,608.76ZM268.88,606.64L269.73,608.76L272.02,608.92L270.26,610.38L270.82,612.60L268.88,611.39L266.94,612.60L267.50,610.38L265.74,608.92L268.03,608.76ZM275.48,606.64L276.33,608.76L278.62,608.92L276.86,610.38L277.42,612.60L275.48,611.39L273.54,612.60L274.10,610.38L272.34,608.92L274.63,608.76ZM295.10,606.64L295.95,608.76L298.24,608.92L296.48,610.38L297.04,612.60L295.10,611.39L293.16,612.60L293.72,610.38L291.96,608.92L294.25,608.76ZM301.70,606.64L302.55,608.76L304.84,608.92L303.08,610.38L303.64,612.60L301.70,611.39L299.76,612.60L300.32,610.38L298.56,608.92L300.85,608.76ZM321.32,606.64L322.17,608.76L324.46,608.92L322.70,610.38L323.26,612.60L321.32,611.39L319.38,612.60L319.94,610.38L318.18,608.92L320.47,608.76ZM327.92,606.64L328.77,608.76L331.06,608.92L329.30,610.38L329.86,612.60L327.92,611.39L325.98,612.60L326.54,610.38L324.78,608.92L327.07,608.76ZM334.52,606.64L335.37,608.76L337.66,608.92L335.90,610.38L336.46,612.60L334.52,611.39L332.58,612.60L333.14,610.38L331.38,608.92L333.67,608.76ZM350.84,606.64L351.69,608.76L353.98,608.92L352.22,610.38L352.78,612.60L350.84,611.39L348.90,612.60L349.46,610.38L347.70,608.92L349.99,608.76ZM357.44,606.64L358.29,608.76L360.58,608.92L358.82,610.38L359.38,612.60L357.44,611.39L355.50,612.60L356.06,610.38L354.30,608.92L356.59,608.76ZM364.04,606.64L364.89,608.76L367.18,608.92L365.42,610.38L365.98,612.60L364.04,611.39L362.10,612.60L362.66,610.38L360.90,608.92L363.19,608.76ZM380.36,606.64L381.21,608.76L383.50,608.92L381.74,610.38L382.30,612.60L380.36,611.39L378.42,612.60L378.98,610.38L377.22,608.92L379.51,608.76ZM386.96,606.64L387.81,608.76L390.10,608.92L388.34,610.38L388.90,612.60L386.96,611.39L385.02,612.60L385.58,610.38L383.82,608.92L386.11,608.76ZM393.56,606.64L394.41,608.76L396.70,608.92L394.94,610.38L395.50,612.60L393.56,611.39L391.62,612.60L392.18,610.38L390.42,608.92L392.71,608.76ZM413.18,606.64L414.03,608.76L416.32,608.92L414.56,610.38L415.12,612.60L413.18,611.39L411.24,612.60L411.80,610.38L410.04,608.92L412.33,608.76ZM419.78,606.64L420.63,608.76L422.92,608.92L421.16,610.38L421.72,612.60L419.78,611.39L417.84,612.60L418.40,610.38L416.64,608.92L418.93,608.76ZM468.92,606.64L469.77,608.76L472.06,608.92L470.30,610.38L470.86,612.60L468.92,611.39L466.98,612.60L467.54,610.38L465.78,608.92L468.07,608.76ZM475.52,606.64L476.37,608.76L478.66,608.92L476.90,610.38L477.46,612.60L475.52,611.39L473.58,612.60L474.14,610.38L472.38,608.92L474.67,608.76ZM482.12,606.64L482.97,608.76L485.26,608.92L483.50,610.38L484.06,612.60L482.12,611.39L480.18,612.60L480.74,610.38L478.98,608.92L481.27,608.76ZM527.96,606.64L528.81,608.76L531.10,608.92L529.34,610.38L529.90,612.60L527.96,611.39L526.02,612.60L526.58,610.38L524.82,608.92L527.11,608.76ZM534.56,606.64L535.41,608.76L537.70,608.92L535.94,610.38L536.50,612.60L534.56,611.39L532.62,612.60L533.18,610.38L531.42,608.92L533.71,608.76ZM541.16,606.64L542.01,608.76L544.30,608.92L542.54,610.38L543.10,612.60L541.16,611.39L539.22,612.60L539.78,610.38L538.02,608.92L540.31,608.76ZM560.78,606.64L561.63,608.76L563.92,608.92L562.16,610.38L562.72,612.60L560.78,611.39L558.84,612.60L559.40,610.38L557.64,608.92L559.93,608.76ZM567.38,606.64L568.23,608.76L570.52,608.92L568.76,610.38L569.32,612.60L567.38,611.39L565.44,612.60L566.00,610.38L564.24,608.92L566.53,608.76ZM91.76,648.02L92.61,650.14L94.90,650.30L93.14,651.76L93.70,653.98L91.76,652.77L89.82,653.98L90.38,651.76L88.62,650.30L90.91,650.14ZM121.28,648.02L122.13,650.14L124.42,650.30L122.66,651.76L123.22,653.98L121.28,652.77L119.34,653.98L119.90,651.76L118.14,650.30L120.43,650.14ZM150.80,648.02L151.65,650.14L153.94,650.30L152.18,651.76L152.74,653.98L150.80,652.77L148.86,653.98L149.42,651.76L147.66,650.30L149.95,650.14ZM180.32,648.02L181.17,650.14L183.46,650.30L181.70,651.76L182.26,653.98L180.32,652.77L178.38,653.98L178.94,651.76L177.18,650.30L179.47,650.14ZM298.40,648.02L299.25,650.14L301.54,650.30L299.78,651.76L300.34,653.98L298.40,652.77L296.46,653.98L297.02,651.76L295.26,650.30L297.55,650.14ZM324.62,648.02L325.47,650.14L327.76,650.30L326.00,651.76L326.56,653.98L324.62,652.77L322.68,653.98L323.24,651.76L321.48,650.30L323.77,650.14ZM331.22,648.02L332.07,650.14L334.36,650.30L332.60,651.76L333.16,653.98L331.22,652.77L329.28,653.98L329.84,651.76L328.08,650.30L330.37,650.14ZM357.44,648.02L358.29,650.14L360.58,650.30L358.82,651.76L359.38,653.98L357.44,652.77L355.50,653.98L356.06,651.76L354.30,650.30L356.59,650.14ZM380.36,648.02L381.21,650.14L383.50,650.30L381.74,651.76L382.30,653.98L380.36,652.77L378.42,653.98L378.98,651.76L377.22,650.30L379.51,650.14ZM386.96,648.02L387.81,650.14L390.10,650.30L388.34,651.76L388.90,653.98L386.96,652.77L385.02,653.98L385.58,651.76L383.82,650.30L386.11,650.14ZM393.56,648.02L394.41,650.14L396.70,650.30L394.94,651.76L395.50,653.98L393.56,652.77L391.62,653.98L392.18,651.76L390.42,650.30L392.71,650.14ZM475.52,648.02L476.37,650.14L478.66,650.30L476.90,651.76L477.46,653.98L475.52,652.77L473.58,653.98L474.14,651.76L472.38,650.30L474.67,650.14ZM534.56,648.02L535.41,650.14L537.70,650.30L535.94,651.76L536.50,653.98L534.56,652.77L532.62,653.98L533.18,651.76L531.42,650.30L533.71,650.14ZM557.48,648.02L558.33,650.14L560.62,650.30L558.86,651.76L559.42,653.98L557.48,652.77L555.54,653.98L556.10,651.76L554.34,650.30L556.63,650.14ZM564.08,648.02L564.93,650.14L567.22,650.30L565.46,651.76L566.02,653.98L564.08,652.77L562.14,653.98L562.70,651.76L560.94,650.30L563.23,650.14ZM570.68,648.02L571.53,650.14L573.82,650.30L572.06,651.76L572.62,653.98L570.68,652.77L568.74,653.98L569.30,651.76L567.54,650.30L569.83,650.14ZM741.20,648.02L742.05,650.14L744.34,650.30L742.58,651.76L743.14,653.98L741.20,652.77L739.26,653.98L739.82,651.76L738.06,650.30L740.35,650.14ZM88.46,668.71L89.31,670.83L91.60,670.99L89.84,672.45L90.40,674.67L88.46,673.46L86.52,674.67L87.08,672.45L85.32,670.99L87.61,670.83ZM95.06,668.71L95.91,670.83L98.20,670.99L96.44,672.45L97.00,674.67L95.06,673.46L93.12,674.67L93.68,672.45L91.92,670.99L94.21,670.83ZM150.80,668.71L151.65,670.83L153.94,670.99L152.18,672.45L152.74,674.67L150.80,673.46L148.86,674.67L149.42,672.45L147.66,670.99L149.95,670.83ZM298.40,668.71L299.25,670.83L301.54,670.99L299.78,672.45L300.34,674.67L298.40,673.46L296.46,674.67L297.02,672.45L295.26,670.99L297.55,670.83ZM324.62,668.71L325.47,670.83L327.76,670.99L326.00,672.45L326.56,674.67L324.62,673.46L322.68,674.67L323.24,672.45L321.48,670.99L323.77,670.83ZM331.22,668.71L332.07,670.83L334.36,670.99L332.60,672.45L333.16,674.67L331.22,673.46L329.28,674.67L329.84,672.45L328.08,670.99L330.37,670.83ZM380.36,668.71L381.21,670.83L383.50,670.99L381.74,672.45L382.30,674.67L380.36,673.46L378.42,674.67L378.98,672.45L377.22,670.99L379.51,670.83ZM386.96,668.71L387.81,670.83L390.10,670.99L388.34,672.45L388.90,674.67L386.96,673.46L385.02,674.67L385.58,672.45L383.82,670.99L386.11,670.83ZM393.56,668.71L394.41,670.83L396.70,670.99L394.94,672.45L395.50,674.67L393.56,673.46L391.62,674.67L392.18,672.45L390.42,670.99L392.71,670.83ZM475.52,668.71L476.37,670.83L478.66,670.99L476.90,672.45L477.46,674.67L475.52,673.46L473.58,674.67L474.14,672.45L472.38,670.99L474.67,670.83ZM534.56,668.71L535.41,670.83L537.70,670.99L535.94,672.45L536.50,674.67L534.56,673.46L532.62,674.67L533.18,672.45L531.42,670.99L533.71,670.83ZM557.48,668.71L558.33,670.83L560.62,670.99L558.86,672.45L559.42,674.67L557.48,673.46L555.54,674.67L556.10,672.45L554.34,670.99L556.63,670.83ZM564.08,668.71L564.93,670.83L567.22,670.99L565.46,672.45L566.02,674.67L564.08,673.46L562.14,674.67L562.70,672.45L560.94,670.99L563.23,670.83ZM570.68,668.71L571.53,670.83L573.82,670.99L572.06,672.45L572.62,674.67L570.68,673.46L568.74,674.67L569.30,672.45L567.54,670.99L569.83,670.83ZM91.76,689.40L92.61,691.52L94.90,691.68L93.14,693.14L93.70,695.36L91.76,694.15L89.82,695.36L90.38,693.14L88.62,691.68L90.91,691.52ZM298.40,689.40L299.25,691.52L301.54,691.68L299.78,693.14L300.34,695.36L298.40,694.15L296.46,695.36L297.02,693.14L295.26,691.68L297.55,691.52ZM321.32,689.40L322.17,691.52L324.46,691.68L322.70,693.14L323.26,695.36L321.32,694.15L319.38,695.36L319.94,693.14L318.18,691.68L320.47,691.52ZM327.92,689.40L328.77,691.52L331.06,691.68L329.30,693.14L329.86,695.36L327.92,694.15L325.98,695.36L326.54,693.14L324.78,691.68L327.07,691.52ZM334.52,689.40L335.37,691.52L337.66,691.68L335.90,693.14L336.46,695.36L334.52,694.15L332.58,695.36L333.14,693.14L331.38,691.68L333.67,691.52ZM354.14,689.40L354.99,691.52L357.28,691.68L355.52,693.14L356.08,695.36L354.14,694.15L352.20,695.36L352.76,693.14L351.00,691.68L353.29,691.52ZM360.74,689.40L361.59,691.52L363.88,691.68L362.12,693.14L362.68,695.36L360.74,694.15L358.80,695.36L359.36,693.14L357.60,691.68L359.89,691.52ZM380.36,689.40L381.21,691.52L383.50,691.68L381.74,693.14L382.30,695.36L380.36,694.15L378.42,695.36L378.98,693.14L377.22,691.68L379.51,691.52ZM386.96,689.40L387.81,691.52L390.10,691.68L388.34,693.14L388.90,695.36L386.96,694.15L385.02,695.36L385.58,693.14L383.82,691.68L386.11,691.52ZM393.56,689.40L394.41,691.52L396.70,691.68L394.94,693.14L395.50,695.36L393.56,694.15L391.62,695.36L392.18,693.14L390.42,691.68L392.71,691.52ZM416.48,689.40L417.33,691.52L419.62,691.68L417.86,693.14L418.42,695.36L416.48,694.15L414.54,695.36L415.10,693.14L413.34,691.68L415.63,691.52ZM472.22,689.40L473.07,691.52L475.36,691.68L473.60,693.14L474.16,695.36L472.22,694.15L470.28,695.36L470.84,693.14L469.08,691.68L471.37,691.52ZM478.82,689.40L479.67,691.52L481.96,691.68L480.20,693.14L480.76,695.36L478.82,694.15L476.88,695.36L477.44,693.14L475.68,691.68L477.97,691.52ZM531.26,689.40L532.11,691.52L534.40,691.68L532.64,693.14L533.20,695.36L531.26,694.15L529.32,695.36L529.88,693.14L528.12,691.68L530.41,691.52ZM537.86,689.40L538.71,691.52L541.00,691.68L539.24,693.14L539.80,695.36L537.86,694.15L535.92,695.36L536.48,693.14L534.72,691.68L537.01,691.52ZM557.48,689.40L558.33,691.52L560.62,691.68L558.86,693.14L559.42,695.36L557.48,694.15L555.54,695.36L556.10,693.14L554.34,691.68L556.63,691.52ZM564.08,689.40L564.93,691.52L567.22,691.68L565.46,693.14L566.02,695.36L564.08,694.15L562.14,695.36L562.70,693.14L560.94,691.68L563.23,691.52ZM570.68,689.40L571.53,691.52L573.82,691.68L572.06,693.14L572.62,695.36L570.68,694.15L568.74,695.36L569.30,693.14L567.54,691.68L569.83,691.52ZM593.60,689.40L594.45,691.52L596.74,691.68L594.98,693.14L595.54,695.36L593.60,694.15L591.66,695.36L592.22,693.14L590.46,691.68L592.75,691.52ZM88.46,710.09L89.31,712.21L91.60,712.37L89.84,713.83L90.40,716.05L88.46,714.84L86.52,716.05L87.08,713.83L85.32,712.37L87.61,712.21ZM95.06,710.09L95.91,712.21L98.20,712.37L96.44,713.83L97.00,716.05L95.06,714.84L93.12,716.05L93.68,713.83L91.92,712.37L94.21,712.21ZM150.80,710.09L151.65,712.21L153.94,712.37L152.18,713.83L152.74,716.05L150.80,714.84L148.86,716.05L149.42,713.83L147.66,712.37L149.95,712.21ZM295.10,710.09L295.95,712.21L298.24,712.37L296.48,713.83L297.04,716.05L295.10,714.84L293.16,716.05L293.72,713.83L291.96,712.37L294.25,712.21ZM301.70,710.09L302.55,712.21L304.84,712.37L303.08,713.83L303.64,716.05L301.70,714.84L299.76,716.05L300.32,713.83L298.56,712.37L300.85,712.21ZM321.32,710.09L322.17,712.21L324.46,712.37L322.70,713.83L323.26,716.05L321.32,714.84L319.38,716.05L319.94,713.83L318.18,712.37L320.47,712.21ZM327.92,710.09L328.77,712.21L331.06,712.37L329.30,713.83L329.86,716.05L327.92,714.84L325.98,716.05L326.54,713.83L324.78,712.37L327.07,712.21ZM334.52,710.09L335.37,712.21L337.66,712.37L335.90,713.83L336.46,716.05L334.52,714.84L332.58,716.05L333.14,713.83L331.38,712.37L333.67,712.21ZM354.14,710.09L354.99,712.21L357.28,712.37L355.52,713.83L356.08,716.05L354.14,714.84L352.20,716.05L352.76,713.83L351.00,712.37L353.29,712.21ZM360.74,710.09L361.59,712.21L363.88,712.37L362.12,713.83L362.68,716.05L360.74,714.84L358.80,716.05L359.36,713.83L357.60,712.37L359.89,712.21ZM380.36,710.09L381.21,712.21L383.50,712.37L381.74,713.83L382.30,716.05L380.36,714.84L378.42,716.05L378.98,713.83L377.22,712.37L379.51,712.21ZM386.96,710.09L387.81,712.21L390.10,712.37L388.34,713.83L388.90,716.05L386.96,714.84L385.02,716.05L385.58,713.83L383.82,712.37L386.11,712.21ZM393.56,710.09L394.41,712.21L396.70,712.37L394.94,713.83L395.50,716.05L393.56,714.84L391.62,716.05L392.18,713.83L390.42,712.37L392.71,712.21ZM416.48,710.09L417.33,712.21L419.62,712.37L417.86,713.83L418.42,716.05L416.48,714.84L414.54,716.05L415.10,713.83L413.34,712.37L415.63,712.21ZM472.22,710.09L473.07,712.21L475.36,712.37L473.60,713.83L474.16,716.05L472.22,714.84L470.28,716.05L470.84,713.83L469.08,712.37L471.37,712.21ZM478.82,710.09L479.67,712.21L481.96,712.37L480.20,713.83L480.76,716.05L478.82,714.84L476.88,716.05L477.44,713.83L475.68,712.37L477.97,712.21ZM531.26,710.09L532.11,712.21L534.40,712.37L532.64,713.83L533.20,716.05L531.26,714.84L529.32,716.05L529.88,713.83L528.12,712.37L530.41,712.21ZM537.86,710.09L538.71,712.21L541.00,712.37L539.24,713.83L539.80,716.05L537.86,714.84L535.92,716.05L536.48,713.83L534.72,712.37L537.01,712.21ZM557.48,710.09L558.33,712.21L560.62,712.37L558.86,713.83L559.42,716.05L557.48,714.84L555.54,716.05L556.10,713.83L554.34,712.37L556.63,712.21ZM564.08,710.09L564.93,712.21L567.22,712.37L565.46,713.83L566.02,716.05L564.08,714.84L562.14,716.05L562.70,713.83L560.94,712.37L563.23,712.21ZM570.68,710.09L571.53,712.21L573.82,712.37L572.06,713.83L572.62,716.05L570.68,714.84L568.74,716.05L569.30,713.83L567.54,712.37L569.83,712.21ZM91.76,730.78L92.61,732.90L94.90,733.06L93.14,734.52L93.70,736.74L91.76,735.53L89.82,736.74L90.38,734.52L88.62,733.06L90.91,732.90ZM327.92,730.78L328.77,732.90L331.06,733.06L329.30,734.52L329.86,736.74L327.92,735.53L325.98,736.74L326.54,734.52L324.78,733.06L327.07,732.90ZM380.36,730.78L381.21,732.90L383.50,733.06L381.74,734.52L382.30,736.74L380.36,735.53L378.42,736.74L378.98,734.52L377.22,733.06L379.51,732.90ZM386.96,730.78L387.81,732.90L390.10,733.06L388.34,734.52L388.90,736.74L386.96,735.53L385.02,736.74L385.58,734.52L383.82,733.06L386.11,732.90ZM393.56,730.78L394.41,732.90L396.70,733.06L394.94,734.52L395.50,736.74L393.56,735.53L391.62,736.74L392.18,734.52L390.42,733.06L392.71,732.90ZM560.78,730.78L561.63,732.90L563.92,733.06L562.16,734.52L562.72,736.74L560.78,735.53L558.84,736.74L559.40,734.52L557.64,733.06L559.93,732.90ZM567.38,730.78L568.23,732.90L570.52,733.06L568.76,734.52L569.32,736.74L567.38,735.53L565.44,736.74L566.00,734.52L564.24,733.06L566.53,732.90ZM593.60,730.78L594.45,732.90L596.74,733.06L594.98,734.52L595.54,736.74L593.60,735.53L591.66,736.74L592.22,734.52L590.46,733.06L592.75,732.90ZM327.92,751.47L328.77,753.59L331.06,753.75L329.30,755.21L329.86,757.43L327.92,756.22L325.98,757.43L326.54,755.21L324.78,753.75L327.07,753.59ZM380.36,751.47L381.21,753.59L383.50,753.75L381.74,755.21L382.30,757.43L380.36,756.22L378.42,757.43L378.98,755.21L377.22,753.75L379.51,753.59ZM386.96,751.47L387.81,753.59L390.10,753.75L388.34,755.21L388.90,757.43L386.96,756.22L385.02,757.43L385.58,755.21L383.82,753.75L386.11,753.59ZM393.56,751.47L394.41,753.59L396.70,753.75L394.94,755.21L395.50,757.43L393.56,756.22L391.62,757.43L392.18,755.21L390.42,753.75L392.71,753.59ZM534.56,751.47L535.41,753.59L537.70,753.75L535.94,755.21L536.50,757.43L534.56,756.22L532.62,757.43L533.18,755.21L531.42,753.75L533.71,753.59ZM557.48,751.47L558.33,753.59L560.62,753.75L558.86,755.21L559.42,757.43L557.48,756.22L555.54,757.43L556.10,755.21L554.34,753.75L556.63,753.59ZM564.08,751.47L564.93,753.59L567.22,753.75L565.46,755.21L566.02,757.43L564.08,756.22L562.14,757.43L562.70,755.21L560.94,753.75L563.23,753.59ZM570.68,751.47L571.53,753.59L573.82,753.75L572.06,755.21L572.62,757.43L570.68,756.22L568.74,757.43L569.30,755.21L567.54,753.75L569.83,753.59ZM180.32,772.16L181.17,774.28L183.46,774.44L181.70,775.90L182.26,778.12L180.32,776.91L178.38,778.12L178.94,775.90L177.18,774.44L179.47,774.28ZM262.28,772.16L263.13,774.28L265.42,774.44L263.66,775.90L264.22,778.12L262.28,776.91L260.34,778.12L260.90,775.90L259.14,774.44L261.43,774.28ZM268.88,772.16L269.73,774.28L272.02,774.44L270.26,775.90L270.82,778.12L268.88,776.91L266.94,778.12L267.50,775.90L265.74,774.44L268.03,774.28ZM275.48,772.16L276.33,774.28L278.62,774.44L276.86,775.90L277.42,778.12L275.48,776.91L273.54,778.12L274.10,775.90L272.34,774.44L274.63,774.28ZM324.62,772.16L325.47,774.28L327.76,774.44L326.00,775.90L326.56,778.12L324.62,776.91L322.68,778.12L323.24,775.90L321.48,774.44L323.77,774.28ZM331.22,772.16L332.07,774.28L334.36,774.44L332.60,775.90L333.16,778.12L331.22,776.91L329.28,778.12L329.84,775.90L328.08,774.44L330.37,774.28ZM354.14,772.16L354.99,774.28L357.28,774.44L355.52,775.90L356.08,778.12L354.14,776.91L352.20,778.12L352.76,775.90L351.00,774.44L353.29,774.28ZM360.74,772.16L361.59,774.28L363.88,774.44L362.12,775.90L362.68,778.12L360.74,776.91L358.80,778.12L359.36,775.90L357.60,774.44L359.89,774.28ZM409.88,772.16L410.73,774.28L413.02,774.44L411.26,775.90L411.82,778.12L409.88,776.91L407.94,778.12L408.50,775.90L406.74,774.44L409.03,774.28ZM416.48,772.16L417.33,774.28L419.62,774.44L417.86,775.90L418.42,778.12L416.48,776.91L414.54,778.12L415.10,775.90L413.34,774.44L415.63,774.28ZM423.08,772.16L423.93,774.28L426.22,774.44L424.46,775.90L425.02,778.12L423.08,776.91L421.14,778.12L421.70,775.90L419.94,774.44L422.23,774.28ZM468.92,772.16L469.77,774.28L472.06,774.44L470.30,775.90L470.86,778.12L468.92,776.91L466.98,778.12L467.54,775.90L465.78,774.44L468.07,774.28ZM475.52,772.16L476.37,774.28L478.66,774.44L476.90,775.90L477.46,778.12L475.52,776.91L473.58,778.12L474.14,775.90L472.38,774.44L474.67,774.28ZM482.12,772.16L482.97,774.28L485.26,774.44L483.50,775.90L484.06,778.12L482.12,776.91L480.18,778.12L480.74,775.90L478.98,774.44L481.27,774.28ZM531.26,772.16L532.11,774.28L534.40,774.44L532.64,775.90L533.20,778.12L531.26,776.91L529.32,778.12L529.88,775.90L528.12,774.44L530.41,774.28ZM537.86,772.16L538.71,774.28L541.00,774.44L539.24,775.90L539.80,778.12L537.86,776.91L535.92,778.12L536.48,775.90L534.72,774.44L537.01,774.28ZM800.24,772.16L801.09,774.28L803.38,774.44L801.62,775.90L802.18,778.12L800.24,776.91L798.30,778.12L798.86,775.90L797.10,774.44L799.39,774.28Z" fill="#0a0a0a"/>
<g font-size="12.8" font-style="italic">
<text x="818.6" y="388.7">s_Thermothelomyces thermophilus</text>
<text x="818.6" y="409.4">s_Talaromyces rugulosus</text>
<text x="818.6" y="430.1">s Contentercospora beticola</text>
<text x="818.6" y="450.8">s Contentolletotrichum higginsianum</text>
<text x="818.6" y="471.5">s_Thermothielavioides terrestris</text>
<text x="818.6" y="492.2">s_Fusarium verticillioides</text>
<text x="818.6" y="512.9">s_Proteus mirabilis</text>
<text x="818.6" y="533.6">s_Neurospora crassa</text>
<text x="818.6" y="554.3">s_Aspergillus oryzae</text>
<text x="818.6" y="575.0">s_Fusarium psoudograminoarum</text>
<text x="818.6" y="595.6">s_Aspergillus fumigatus</text>
<text x="818.6" y="616.3">s_Fusarium venenatum</text>
<text x="818.6" y="637.0">s_Saccharopolyspora erythraea</text>
<text x="818.6" y="657.7">s_Bacillus velezensis</text>
<text x="818.6" y="678.4">s_Bacillus lichoniformis</text>
<text x="818.6" y="699.1">s_Bacillus subtilis</text>
<text x="818.6" y="719.8">s_Bacillus amyloliquefaciens</text>
<text x="818.6" y="740.5">s_Thermoactinomyces vulgaris</text>
<text x="818.6" y="761.2">s_Weizmannia coagulans</text>
<text x="818.6" y="781.9">s_Kroppenstedtia eburnea</text>
</g>
<g font-size="13.1" text-anchor="end">
<text transform="translate(95.3,792.3) rotate(-90)">Acidity</text>
<text transform="translate(124.8,792.3) rotate(-90)">Water Content</text>
<text transform="translate(154.3,792.3) rotate(-90)">AAN</text>
<text transform="translate(183.8,792.3) rotate(-90)">Ash Content</text>
<text transform="translate(213.3,792.3) rotate(-90)">Starch Content</text>
<text transform="translate(242.9,792.3) rotate(-90)">Protein Content</text>
<text transform="translate(272.4,792.3) rotate(-90)">AW</text>
<text transform="translate(301.9,792.3) rotate(-90)">W1C</text>
<text transform="translate(331.4,792.3) rotate(-90)">W5S</text>
<text transform="translate(360.9,792.3) rotate(-90)">W3C</text>
<text transform="translate(390.5,792.3) rotate(-90)">W6S</text>
<text transform="translate(420.0,792.3) rotate(-90)">W5C</text>
<text transform="translate(449.5,792.3) rotate(-90)">W1S</text>
<text transform="translate(479.0,792.3) rotate(-90)">W1W</text>
<text transform="translate(508.5,792.3) rotate(-90)">W2S</text>
<text transform="translate(538.1,792.3) rotate(-90)">W2W</text>
<text transform="translate(567.6,792.3) rotate(-90)">W3S</text>
<text transform="translate(597.1,792.3) rotate(-90)">Sourness</text>
<text transform="translate(626.6,792.3) rotate(-90)">Bitterness</text>
<text transform="translate(656.1,792.3) rotate(-90)" textLength="56.4" lengthAdjust="spacingAndGlyphs" style="fill:#222" stroke="#222" stroke-width="0.35">Astriuency</text>
<text transform="translate(685.7,792.3) rotate(-90)" textLength="54.0" lengthAdjust="spacingAndGlyphs" style="fill:#222" stroke="#222" stroke-width="0.35">Aftuoste B</text>
<text transform="translate(715.2,792.3) rotate(-90)" textLength="54.0" lengthAdjust="spacingAndGlyphs" style="fill:#222" stroke="#222" stroke-width="0.35">Aftuiste A</text>
<text transform="translate(744.7,792.3) rotate(-90)" textLength="54.7" lengthAdjust="spacingAndGlyphs" style="fill:#222" stroke="#222" stroke-width="0.35">Unmami</text>
<text transform="translate(774.2,792.3) rotate(-90)" textLength="54.7" lengthAdjust="spacingAndGlyphs" style="fill:#222" stroke="#222" stroke-width="0.35">Richiness</text>
<text transform="translate(803.7,792.3) rotate(-90)" textLength="52.8" lengthAdjust="spacingAndGlyphs" style="fill:#222" stroke="#222" stroke-width="0.35">Saltuness</text>
</g>
<rect x="813" y="838.6" width="1.6" height="2.4" fill="#999"/>
<text x="1.5" y="379" font-size="24.5">(d)</text>
<g stroke-width="1.3" stroke-linecap="square" fill="none">
<line x1="64.7" y1="385.6" x2="74.5" y2="385.6" stroke="#111"/>
<line x1="64.7" y1="406.3" x2="74.5" y2="406.3" stroke="#111"/>
<line x1="64.7" y1="385.6" x2="64.7" y2="406.3" stroke="#111"/>
<line x1="54.7" y1="396.0" x2="64.7" y2="396.0" stroke="#8a8a8a"/>
<line x1="54.7" y1="427.0" x2="74.5" y2="427.0" stroke="#111"/>
<line x1="54.7" y1="396.0" x2="54.7" y2="427.0" stroke="#111"/>
<line x1="64.7" y1="447.7" x2="74.5" y2="447.7" stroke="#8a8a8a"/>
<line x1="64.7" y1="468.4" x2="74.5" y2="468.4" stroke="#8a8a8a"/>
<line x1="64.7" y1="447.7" x2="64.7" y2="468.4" stroke="#111"/>
<line x1="44.8" y1="411.5" x2="54.7" y2="411.5" stroke="#8a8a8a"/>
<line x1="44.8" y1="458.1" x2="64.7" y2="458.1" stroke="#111"/>
<line x1="44.8" y1="411.5" x2="44.8" y2="458.1" stroke="#111"/>
<line x1="64.7" y1="489.1" x2="74.5" y2="489.1" stroke="#111"/>
<line x1="64.7" y1="509.8" x2="74.5" y2="509.8" stroke="#111"/>
<line x1="64.7" y1="489.1" x2="64.7" y2="509.8" stroke="#111"/>
<line x1="54.7" y1="499.4" x2="64.7" y2="499.4" stroke="#111"/>
<line x1="54.7" y1="530.5" x2="74.5" y2="530.5" stroke="#111"/>
<line x1="54.7" y1="499.4" x2="54.7" y2="530.5" stroke="#111"/>
<line x1="44.8" y1="515.0" x2="54.7" y2="515.0" stroke="#8a8a8a"/>
<line x1="44.8" y1="551.2" x2="74.5" y2="551.2" stroke="#8a8a8a"/>
<line x1="44.8" y1="515.0" x2="44.8" y2="551.2" stroke="#111"/>
<line x1="35.2" y1="434.8" x2="44.8" y2="434.8" stroke="#111"/>
<line x1="35.2" y1="533.1" x2="44.8" y2="533.1" stroke="#8a8a8a"/>
<line x1="35.2" y1="434.8" x2="35.2" y2="533.1" stroke="#111"/>
<line x1="64.7" y1="571.9" x2="74.5" y2="571.9" stroke="#8a8a8a"/>
<line x1="64.7" y1="592.5" x2="74.5" y2="592.5" stroke="#8a8a8a"/>
<line x1="64.7" y1="571.9" x2="64.7" y2="592.5" stroke="#111"/>
<line x1="54.7" y1="582.2" x2="64.7" y2="582.2" stroke="#111"/>
<line x1="54.7" y1="613.2" x2="74.5" y2="613.2" stroke="#111"/>
<line x1="54.7" y1="582.2" x2="54.7" y2="613.2" stroke="#111"/>
<line x1="25.3" y1="483.9" x2="35.2" y2="483.9" stroke="#8a8a8a"/>
<line x1="25.3" y1="597.7" x2="54.7" y2="597.7" stroke="#111"/>
<line x1="25.3" y1="483.9" x2="25.3" y2="597.7" stroke="#111"/>
<line x1="15.5" y1="540.8" x2="25.3" y2="540.8" stroke="#111"/>
<line x1="15.5" y1="633.9" x2="74.5" y2="633.9" stroke="#111"/>
<line x1="15.5" y1="540.8" x2="15.5" y2="633.9" stroke="#111"/>
<line x1="65.2" y1="654.6" x2="74.5" y2="654.6" stroke="#8a8a8a"/>
<line x1="65.2" y1="675.3" x2="74.5" y2="675.3" stroke="#8a8a8a"/>
<line x1="65.2" y1="654.6" x2="65.2" y2="675.3" stroke="#111"/>
<line x1="65.2" y1="696.0" x2="74.5" y2="696.0" stroke="#8a8a8a"/>
<line x1="65.2" y1="716.7" x2="74.5" y2="716.7" stroke="#8a8a8a"/>
<line x1="65.2" y1="696.0" x2="65.2" y2="716.7" stroke="#111"/>
<line x1="55.0" y1="665.0" x2="65.2" y2="665.0" stroke="#111"/>
<line x1="55.0" y1="706.3" x2="65.2" y2="706.3" stroke="#111"/>
<line x1="55.0" y1="665.0" x2="55.0" y2="706.3" stroke="#111"/>
<line x1="65.2" y1="737.4" x2="74.5" y2="737.4" stroke="#111"/>
<line x1="65.2" y1="758.1" x2="74.5" y2="758.1" stroke="#111"/>
<line x1="65.2" y1="737.4" x2="65.2" y2="758.1" stroke="#111"/>
<line x1="45.3" y1="685.7" x2="55.0" y2="685.7" stroke="#111"/>
<line x1="45.3" y1="747.7" x2="65.2" y2="747.7" stroke="#111"/>
<line x1="45.3" y1="685.7" x2="45.3" y2="747.7" stroke="#111"/>
<line x1="35.3" y1="716.7" x2="45.3" y2="716.7" stroke="#111"/>
<line x1="35.3" y1="778.8" x2="74.5" y2="778.8" stroke="#111"/>
<line x1="35.3" y1="716.7" x2="35.3" y2="778.8" stroke="#111"/>
<line x1="5.8" y1="587.4" x2="15.5" y2="587.4" stroke="#8a8a8a"/>
<line x1="5.8" y1="747.7" x2="35.3" y2="747.7" stroke="#111"/>
<line x1="5.8" y1="587.4" x2="5.8" y2="747.7" stroke="#8a8a8a"/>
</g>
<defs><linearGradient id="cb" x1="0" y1="0" x2="0" y2="1">
<stop offset="0.0000" stop-color="#a75756"/>
<stop offset="0.0417" stop-color="#b06563"/>
<stop offset="0.0833" stop-color="#ba7270"/>
<stop offset="0.1250" stop-color="#c3807c"/>
<stop offset="0.1667" stop-color="#cd8e89"/>
<stop offset="0.2083" stop-color="#d69e99"/>
<stop offset="0.2500" stop-color="#deafaa"/>
<stop offset="0.2917" stop-color="#e7c1bc"/>
<stop offset="0.3333" stop-color="#eed1cc"/>
<stop offset="0.3750" stop-color="#f4e0dc"/>
<stop offset="0.4167" stop-color="#faefee"/>
<stop offset="0.4583" stop-color="#ffffff"/>
<stop offset="0.5000" stop-color="#e7ebf2"/>
<stop offset="0.5417" stop-color="#d0d7e6"/>
<stop offset="0.5833" stop-color="#bac3d9"/>
<stop offset="0.6250" stop-color="#a5b1cd"/>
<stop offset="0.6667" stop-color="#909fc1"/>
<stop offset="0.7083" stop-color="#7b8db5"/>
<stop offset="0.7500" stop-color="#687daa"/>
<stop offset="0.7917" stop-color="#5973a5"/>
<stop offset="0.8333" stop-color="#4b689f"/>
<stop offset="0.8750" stop-color="#3c5d99"/>
<stop offset="0.9167" stop-color="#2d5291"/>
<stop offset="0.9583" stop-color="#1f4688"/>
<stop offset="1.0000" stop-color="#143d83"/>
</linearGradient></defs>
<rect x="1026" y="568" width="20.5" height="103.5" fill="url(#cb)"/>
<line x1="1042" y1="586" x2="1046.5" y2="586" stroke="#fff" stroke-width="1"/>
<line x1="1042" y1="644.6" x2="1046.5" y2="644.6" stroke="#d8dcea" stroke-width="1"/>
<g font-size="10.6"><text x="1053.5" y="590">0 4</text><text x="1053.5" y="619.2">0 0</text><text x="1053.5" y="648.6">-0 4</text></g>
<text x="1019" y="559.5" font-size="12.3">Corr. Coe.</text>
<g>
<line x1="228.7" y1="46.0" x2="228.7" y2="314.8" stroke="#a2a2a2" stroke-width="1.1" stroke-dasharray="5,4"/>
<line x1="56.0" y1="211.2" x2="310.5" y2="211.2" stroke="#a2a2a2" stroke-width="1.1" stroke-dasharray="5,4"/>
<clipPath id="cp1"><rect x="56.0" y="46.0" width="254.5" height="268.8"/></clipPath>
<g clip-path="url(#cp1)">
<line x1="223.0" y1="203.0" x2="261.1" y2="130.4" stroke="#ab153b" stroke-width="5.1"/>
<line x1="261.1" y1="130.4" x2="299.2" y2="57.9" stroke="#2ea3d5" stroke-width="5.1"/>
<line x1="220.7" y1="201.0" x2="144.0" y2="164.3" stroke="#ab153b" stroke-width="5.1"/>
<line x1="144.0" y1="164.3" x2="67.3" y2="127.6" stroke="#2ea3d5" stroke-width="5.1"/>
<line x1="219.5" y1="195.0" x2="220.1" y2="185.6" stroke="#ab153b" stroke-width="5.1"/>
<line x1="220.1" y1="185.6" x2="221.7" y2="157.5" stroke="#2ea3d5" stroke-width="5.1"/>
<line x1="219.5" y1="195.0" x2="219.4" y2="185.6" stroke="#ab153b" stroke-width="5.1"/>
<line x1="219.4" y1="185.6" x2="219.3" y2="157.5" stroke="#2ea3d5" stroke-width="5.1"/>
<line x1="219.5" y1="192.0" x2="216.6" y2="184.4" stroke="#ab153b" stroke-width="5.1"/>
<line x1="216.6" y1="184.4" x2="209.9" y2="166.7" stroke="#2ea3d5" stroke-width="5.1"/>
<line x1="231.0" y1="192.0" x2="238.1" y2="179.5" stroke="#ab153b" stroke-width="5.1"/>
<line x1="238.1" y1="179.5" x2="251.3" y2="156.3" stroke="#2ea3d5" stroke-width="5.1"/>
<line x1="236.0" y1="191.0" x2="245.5" y2="183.5" stroke="#ab153b" stroke-width="5.1"/>
<line x1="245.5" y1="183.5" x2="263.1" y2="169.6" stroke="#2ea3d5" stroke-width="5.1"/>
<line x1="226.0" y1="196.0" x2="227.4" y2="190.2" stroke="#ab153b" stroke-width="5.1"/>
<line x1="227.4" y1="190.2" x2="229.5" y2="181.4" stroke="#2ea3d5" stroke-width="5.1"/>
<line x1="212.0" y1="215.5" x2="202.2" y2="208.8" stroke="#ab153b" stroke-width="5.1"/>
<line x1="202.2" y1="208.8" x2="192.4" y2="202.2" stroke="#2ea3d5" stroke-width="5.1"/>
<line x1="214.0" y1="209.0" x2="198.7" y2="213.6" stroke="#ab153b" stroke-width="5.1"/>
<line x1="198.7" y1="213.6" x2="175.7" y2="220.5" stroke="#2ea3d5" stroke-width="5.1"/>
<line x1="212.0" y1="220.0" x2="206.3" y2="240.9" stroke="#ab153b" stroke-width="5.1"/>
<line x1="206.3" y1="240.9" x2="195.7" y2="279.8" stroke="#2ea3d5" stroke-width="5.1"/>
<line x1="226.4" y1="221.0" x2="224.2" y2="253.6" stroke="#ab153b" stroke-width="5.1"/>
<line x1="224.2" y1="253.6" x2="220.9" y2="302.4" stroke="#2ea3d5" stroke-width="5.1"/>
<line x1="230.5" y1="230.0" x2="231.3" y2="252.5" stroke="#ab153b" stroke-width="5.1"/>
<line x1="231.3" y1="252.5" x2="232.5" y2="286.3" stroke="#2ea3d5" stroke-width="5.1"/>
<line x1="246.0" y1="221.0" x2="252.1" y2="230.7" stroke="#ab153b" stroke-width="5.1"/>
<line x1="252.1" y1="230.7" x2="266.2" y2="253.3" stroke="#2ea3d5" stroke-width="5.1"/>
<line x1="243.0" y1="224.0" x2="246.6" y2="229.1" stroke="#ab153b" stroke-width="5.1"/>
<line x1="246.6" y1="229.1" x2="255.0" y2="240.9" stroke="#2ea3d5" stroke-width="5.1"/>
<line x1="222.0" y1="216.0" x2="217.4" y2="225.3" stroke="#ab153b" stroke-width="5.1"/>
<line x1="217.4" y1="225.3" x2="212.8" y2="234.6" stroke="#2ea3d5" stroke-width="5.1"/>
<line x1="222.0" y1="220.0" x2="220.7" y2="231.2" stroke="#ab153b" stroke-width="5.1"/>
<line x1="220.7" y1="231.2" x2="219.3" y2="242.5" stroke="#2ea3d5" stroke-width="5.1"/>
<line x1="218.0" y1="225.0" x2="216.2" y2="236.4" stroke="#ab153b" stroke-width="5.1"/>
<line x1="216.2" y1="236.4" x2="213.6" y2="253.5" stroke="#2ea3d5" stroke-width="5.1"/>
<line x1="233.0" y1="232.0" x2="234.5" y2="238.6" stroke="#ab153b" stroke-width="5.1"/>
<line x1="234.5" y1="238.6" x2="238.0" y2="254.1" stroke="#2ea3d5" stroke-width="5.1"/>
<line x1="230.0" y1="236.0" x2="230.4" y2="243.9" stroke="#ab153b" stroke-width="5.1"/>
<line x1="230.4" y1="243.9" x2="231.5" y2="262.3" stroke="#2ea3d5" stroke-width="5.1"/>
<line x1="208.0" y1="214.0" x2="228.0" y2="214.0" stroke="#ab153b" stroke-width="5.1"/>
<line x1="213.0" y1="218.0" x2="226.0" y2="210.0" stroke="#ab153b" stroke-width="5.1"/>
<line x1="236.0" y1="205.0" x2="243.2" y2="202.5" stroke="#ab153b" stroke-width="5.1"/>
<line x1="243.2" y1="202.5" x2="254.0" y2="198.7" stroke="#2ea3d5" stroke-width="5.1"/>
<line x1="235.0" y1="200.0" x2="242.1" y2="199.2" stroke="#ab153b" stroke-width="5.1"/>
<line x1="242.1" y1="199.2" x2="258.6" y2="197.5" stroke="#2ea3d5" stroke-width="5.1"/>
<line x1="238.0" y1="208.0" x2="243.4" y2="209.1" stroke="#ab153b" stroke-width="5.1"/>
<line x1="243.4" y1="209.1" x2="256.0" y2="211.7" stroke="#2ea3d5" stroke-width="5.1"/>
<line x1="228.0" y1="200.0" x2="236.1" y2="195.8" stroke="#ab153b" stroke-width="5.1"/>
<line x1="236.1" y1="195.8" x2="248.2" y2="189.5" stroke="#2ea3d5" stroke-width="5.1"/>
<line x1="110.0" y1="46.0" x2="302.5" y2="314.4" stroke="#000" stroke-width="1.4"/>
<line x1="274.4" y1="46.0" x2="200.6" y2="314.4" stroke="#000" stroke-width="1.4"/>
</g>
<circle cx="221.5" cy="192.5" r="4.7" fill="none" stroke="#000" stroke-width="1.3"/>
<circle cx="219.5" cy="197.0" r="4.7" fill="none" stroke="#000" stroke-width="1.3"/>
<circle cx="218.5" cy="201.5" r="4.7" fill="none" stroke="#000" stroke-width="1.3"/>
<circle cx="220.0" cy="205.0" r="4.7" fill="none" stroke="#000" stroke-width="1.3"/>
<circle cx="220.3" cy="202.2" r="4.7" fill="#6393dc" stroke="#000" stroke-width="1.3"/>
<circle cx="222.4" cy="197.1" r="4.7" fill="#6393dc" stroke="#000" stroke-width="1.3"/>
<circle cx="230.5" cy="205.6" r="4.7" fill="#6393dc" stroke="#000" stroke-width="1.3"/>
<circle cx="254.0" cy="198.7" r="4.7" fill="#1d7a1c" stroke="#000" stroke-width="1.3"/>
<circle cx="231.5" cy="214.4" r="4.7" fill="#1d7a1c" stroke="#000" stroke-width="1.3"/>
<circle cx="235.6" cy="218.5" r="4.7" fill="#1d7a1c" stroke="#000" stroke-width="1.3"/>
<circle cx="299.2" cy="57.9" r="4.7" fill="#6393dc" stroke="#000" stroke-width="1.3"/>
<circle cx="67.3" cy="127.6" r="4.7" fill="#6393dc" stroke="#000" stroke-width="1.3"/>
<circle cx="219.3" cy="157.5" r="4.7" fill="#6393dc" stroke="#000" stroke-width="1.3"/>
<circle cx="221.7" cy="157.5" r="4.7" fill="#6393dc" stroke="#000" stroke-width="1.3"/>
<circle cx="209.9" cy="166.7" r="4.7" fill="#6393dc" stroke="#000" stroke-width="1.3"/>
<circle cx="251.3" cy="156.3" r="4.7" fill="#6393dc" stroke="#000" stroke-width="1.3"/>
<circle cx="263.1" cy="169.6" r="4.7" fill="#6393dc" stroke="#000" stroke-width="1.3"/>
<circle cx="229.5" cy="181.4" r="4.7" fill="#6393dc" stroke="#000" stroke-width="1.3"/>
<circle cx="192.4" cy="202.2" r="4.7" fill="#6393dc" stroke="#000" stroke-width="1.3"/>
<circle cx="175.7" cy="220.5" r="4.7" fill="#6393dc" stroke="#000" stroke-width="1.3"/>
<circle cx="224.6" cy="227.2" r="4.7" fill="#6393dc" stroke="#000" stroke-width="1.3"/>
<circle cx="212.8" cy="234.6" r="4.7" fill="#1d7a1c" stroke="#000" stroke-width="1.3"/>
<circle cx="219.3" cy="242.5" r="4.7" fill="#1d7a1c" stroke="#000" stroke-width="1.3"/>
<circle cx="213.6" cy="253.5" r="4.7" fill="#1d7a1c" stroke="#000" stroke-width="1.3"/>
<circle cx="238.0" cy="254.1" r="4.7" fill="#1d7a1c" stroke="#000" stroke-width="1.3"/>
<circle cx="231.5" cy="262.3" r="4.7" fill="#1d7a1c" stroke="#000" stroke-width="1.3"/>
<circle cx="255.0" cy="240.9" r="4.7" fill="#1d7a1c" stroke="#000" stroke-width="1.3"/>
<circle cx="266.2" cy="253.3" r="4.7" fill="#1d7a1c" stroke="#000" stroke-width="1.3"/>
<circle cx="195.7" cy="279.8" r="4.7" fill="#1d7a1c" stroke="#000" stroke-width="1.3"/>
<circle cx="220.9" cy="302.4" r="4.7" fill="#1d7a1c" stroke="#000" stroke-width="1.3"/>
<circle cx="248.2" cy="189.5" r="4.7" fill="#f08c74" stroke="#000" stroke-width="1.3"/>
<circle cx="234.6" cy="195.0" r="4.7" fill="#f08c74" stroke="#000" stroke-width="1.3"/>
<circle cx="240.7" cy="197.7" r="4.7" fill="#f08c74" stroke="#000" stroke-width="1.3"/>
<circle cx="258.6" cy="197.5" r="4.7" fill="#f08c74" stroke="#000" stroke-width="1.3"/>
<circle cx="244.2" cy="207.7" r="4.7" fill="#f08c74" stroke="#000" stroke-width="1.3"/>
<circle cx="256.0" cy="211.7" r="4.7" fill="#f08c74" stroke="#000" stroke-width="1.3"/>
<circle cx="243.8" cy="217.9" r="4.7" fill="#f08c74" stroke="#000" stroke-width="1.3"/>
<circle cx="242.1" cy="222.1" r="4.7" fill="#f08c74" stroke="#000" stroke-width="1.3"/>
<circle cx="234.6" cy="228.0" r="4.7" fill="#f08c74" stroke="#000" stroke-width="1.3"/>
<circle cx="240.3" cy="229.7" r="4.7" fill="#f08c74" stroke="#000" stroke-width="1.3"/>
<circle cx="234.2" cy="237.8" r="4.7" fill="#f08c74" stroke="#000" stroke-width="1.3"/>
<circle cx="238.7" cy="240.3" r="4.7" fill="#f08c74" stroke="#000" stroke-width="1.3"/>
<circle cx="244.2" cy="244.0" r="4.7" fill="#f08c74" stroke="#000" stroke-width="1.3"/>
<circle cx="228.0" cy="245.4" r="4.7" fill="#f08c74" stroke="#000" stroke-width="1.3"/>
<circle cx="232.5" cy="286.3" r="4.7" fill="#f08c74" stroke="#000" stroke-width="1.3"/>
<text x="74.2" y="64.0" font-size="10.6" style="fill:#222">Procrustes analysis:</text>
<text x="88.2" y="78.0" font-size="10.6" style="fill:#222"><tspan font-style="italic">M2</tspan> = 0 9824, <tspan font-style="italic">P</tspan>−value = 0 667</text>
<rect x="56.0" y="46.0" width="254.5" height="268.8" fill="none" stroke="#000" stroke-width="1.3"/>
<line x1="56.0" y1="45.4" x2="56.0" y2="316.0" stroke="#000" stroke-width="2.4"/>
<line x1="54.8" y1="314.8" x2="311.1" y2="314.8" stroke="#000" stroke-width="2.4"/>
<g font-size="11.3">
<line x1="94.6" y1="314.8" x2="94.6" y2="319.8" stroke="#000" stroke-width="2"/>
<text x="94.6" y="331.8" text-anchor="middle">−3</text>
<line x1="139.4" y1="314.8" x2="139.4" y2="319.8" stroke="#000" stroke-width="2"/>
<text x="139.4" y="331.8" text-anchor="middle">−2</text>
<line x1="184.3" y1="314.8" x2="184.3" y2="319.8" stroke="#000" stroke-width="2"/>
<text x="184.3" y="331.8" text-anchor="middle">−1</text>
<line x1="228.8" y1="314.8" x2="228.8" y2="319.8" stroke="#000" stroke-width="2"/>
<text x="228.8" y="331.8" text-anchor="middle">0</text>
<line x1="273.5" y1="314.8" x2="273.5" y2="319.8" stroke="#000" stroke-width="2"/>
<text x="273.5" y="331.8" text-anchor="middle">1</text>
<line x1="50.5" y1="60.3" x2="56.0" y2="60.3" stroke="#000" stroke-width="2"/>
<text x="48.5" y="64.3" text-anchor="end">1 5</text>
<line x1="50.5" y1="110.9" x2="56.0" y2="110.9" stroke="#000" stroke-width="2"/>
<text x="48.5" y="114.9" text-anchor="end">1 0</text>
<line x1="50.5" y1="161.0" x2="56.0" y2="161.0" stroke="#000" stroke-width="2"/>
<text x="48.5" y="165.0" text-anchor="end">0 5</text>
<line x1="50.5" y1="211.2" x2="56.0" y2="211.2" stroke="#000" stroke-width="2"/>
<text x="48.5" y="215.2" text-anchor="end">0 0</text>
<line x1="50.5" y1="261.3" x2="56.0" y2="261.3" stroke="#000" stroke-width="2"/>
<text x="48.5" y="265.3" text-anchor="end">−0 5</text>
<line x1="50.5" y1="311.5" x2="56.0" y2="311.5" stroke="#000" stroke-width="2"/>
<text x="48.5" y="315.5" text-anchor="end">−1 0</text>
</g>
<text x="183.2" y="346.3" font-size="13.3" text-anchor="middle">Dimension 1</text>
<text transform="translate(23.0,180.4) rotate(-90)" font-size="13.3" text-anchor="middle">Dimension 2</text>
<text x="11.0" y="24.3" font-size="24.5">a)</text>
</g>
<g>
<line x1="462.2" y1="41.6" x2="462.2" y2="310.6" stroke="#a2a2a2" stroke-width="1.1" stroke-dasharray="5,4"/>
<line x1="364.4" y1="215.2" x2="619.2" y2="215.2" stroke="#a2a2a2" stroke-width="1.1" stroke-dasharray="5,4"/>
<clipPath id="cp2"><rect x="364.4" y="41.6" width="254.8" height="269.0"/></clipPath>
<g clip-path="url(#cp2)">
<line x1="456.0" y1="239.0" x2="523.0" y2="238.2" stroke="#ab153b" stroke-width="4.7"/>
<line x1="523.0" y1="238.2" x2="589.9" y2="237.4" stroke="#2ea3d5" stroke-width="4.7"/>
<line x1="456.0" y1="242.5" x2="532.0" y2="245.6" stroke="#ab153b" stroke-width="4.7"/>
<line x1="532.0" y1="245.6" x2="608.1" y2="248.7" stroke="#2ea3d5" stroke-width="4.7"/>
<line x1="454.0" y1="236.0" x2="505.0" y2="236.0" stroke="#ab153b" stroke-width="4.7"/>
<line x1="492.0" y1="181.0" x2="515.8" y2="174.3" stroke="#ab153b" stroke-width="4.7"/>
<line x1="515.8" y1="174.3" x2="539.6" y2="167.7" stroke="#2ea3d5" stroke-width="4.7"/>
<line x1="487.0" y1="199.0" x2="493.1" y2="190.6" stroke="#ab153b" stroke-width="4.7"/>
<line x1="493.1" y1="190.6" x2="507.2" y2="171.0" stroke="#2ea3d5" stroke-width="4.7"/>
<line x1="499.8" y1="188.4" x2="525.8" y2="205.2" stroke="#ab153b" stroke-width="4.7"/>
<line x1="525.8" y1="205.2" x2="557.5" y2="225.7" stroke="#2ea3d5" stroke-width="4.7"/>
<line x1="493.5" y1="199.6" x2="515.0" y2="206.9" stroke="#ab153b" stroke-width="4.7"/>
<line x1="515.0" y1="206.9" x2="541.3" y2="215.8" stroke="#2ea3d5" stroke-width="4.7"/>
<line x1="493.5" y1="238.0" x2="476.1" y2="205.1" stroke="#ab153b" stroke-width="4.7"/>
<line x1="476.1" y1="205.1" x2="458.7" y2="172.2" stroke="#2ea3d5" stroke-width="4.7"/>
<line x1="505.5" y1="233.5" x2="498.4" y2="223.8" stroke="#ab153b" stroke-width="4.7"/>
<line x1="498.4" y1="223.8" x2="470.0" y2="185.0" stroke="#2ea3d5" stroke-width="4.7"/>
<line x1="469.1" y1="144.3" x2="489.0" y2="205.0" stroke="#ab153b" stroke-width="4.7"/>
<line x1="480.6" y1="158.5" x2="486.0" y2="178.0" stroke="#ab153b" stroke-width="4.7"/>
<line x1="474.0" y1="160.0" x2="463.9" y2="161.8" stroke="#ab153b" stroke-width="4.7"/>
<line x1="463.9" y1="161.8" x2="457.2" y2="163.0" stroke="#2ea3d5" stroke-width="4.7"/>
<line x1="457.2" y1="163.0" x2="445.3" y2="140.4" stroke="#2ea3d5" stroke-width="4.7"/>
<line x1="457.2" y1="165.0" x2="442.8" y2="149.9" stroke="#2ea3d5" stroke-width="4.7"/>
<line x1="457.2" y1="166.0" x2="440.3" y2="165.6" stroke="#2ea3d5" stroke-width="4.7"/>
<line x1="457.2" y1="172.0" x2="455.9" y2="197.8" stroke="#ab153b" stroke-width="4.7"/>
<line x1="455.9" y1="197.8" x2="455.0" y2="215.0" stroke="#2ea3d5" stroke-width="4.7"/>
<line x1="459.0" y1="178.0" x2="459.9" y2="205.1" stroke="#ab153b" stroke-width="4.7"/>
<line x1="478.0" y1="212.0" x2="490.9" y2="217.4" stroke="#ab153b" stroke-width="4.7"/>
<line x1="490.9" y1="217.4" x2="520.9" y2="230.0" stroke="#2ea3d5" stroke-width="4.7"/>
<line x1="470.0" y1="220.0" x2="493.5" y2="238.2" stroke="#ab153b" stroke-width="4.7"/>
<line x1="462.0" y1="218.0" x2="480.6" y2="222.5" stroke="#ab153b" stroke-width="4.7"/>
<line x1="452.0" y1="206.0" x2="438.6" y2="199.1" stroke="#ab153b" stroke-width="4.7"/>
<line x1="438.6" y1="199.1" x2="425.3" y2="192.2" stroke="#2ea3d5" stroke-width="4.7"/>
<line x1="448.0" y1="215.0" x2="443.1" y2="210.5" stroke="#ab153b" stroke-width="4.7"/>
<line x1="443.1" y1="210.5" x2="431.6" y2="200.0" stroke="#2ea3d5" stroke-width="4.7"/>
<line x1="445.0" y1="222.0" x2="439.6" y2="220.0" stroke="#ab153b" stroke-width="4.7"/>
<line x1="439.6" y1="220.0" x2="417.8" y2="212.2" stroke="#2ea3d5" stroke-width="4.7"/>
<line x1="443.0" y1="228.0" x2="436.8" y2="228.1" stroke="#ab153b" stroke-width="4.7"/>
<line x1="436.8" y1="228.1" x2="411.9" y2="228.4" stroke="#2ea3d5" stroke-width="4.7"/>
<line x1="445.0" y1="222.0" x2="437.8" y2="218.9" stroke="#ab153b" stroke-width="4.7"/>
<line x1="437.8" y1="218.9" x2="409.1" y2="206.7" stroke="#2ea3d5" stroke-width="4.7"/>
<line x1="440.0" y1="236.0" x2="429.3" y2="243.8" stroke="#ab153b" stroke-width="4.7"/>
<line x1="429.3" y1="243.8" x2="404.4" y2="262.0" stroke="#2ea3d5" stroke-width="4.7"/>
<line x1="436.0" y1="240.0" x2="430.3" y2="260.5" stroke="#ab153b" stroke-width="4.7"/>
<line x1="430.3" y1="260.5" x2="419.8" y2="298.7" stroke="#2ea3d5" stroke-width="4.7"/>
<line x1="441.0" y1="240.0" x2="440.4" y2="248.6" stroke="#ab153b" stroke-width="4.7"/>
<line x1="440.4" y1="248.6" x2="439.0" y2="268.8" stroke="#2ea3d5" stroke-width="4.7"/>
<line x1="440.0" y1="232.0" x2="433.4" y2="237.6" stroke="#ab153b" stroke-width="4.7"/>
<line x1="433.4" y1="237.6" x2="426.8" y2="243.1" stroke="#2ea3d5" stroke-width="4.7"/>
<line x1="478.6" y1="199.6" x2="490.5" y2="210.8" stroke="#ab153b" stroke-width="4.7"/>
<line x1="455.0" y1="228.0" x2="464.9" y2="228.8" stroke="#ab153b" stroke-width="4.7"/>
<line x1="464.9" y1="228.8" x2="474.9" y2="229.7" stroke="#2ea3d5" stroke-width="4.7"/>
<line x1="439.4" y1="41.6" x2="474.5" y2="310.6" stroke="#000" stroke-width="1.4"/>
<line x1="364.4" y1="287.8" x2="619.2" y2="99.0" stroke="#000" stroke-width="1.4"/>
</g>
<circle cx="454.0" cy="241.4" r="4.7" fill="#f08c74" stroke="#000" stroke-width="1.3"/>
<circle cx="445.3" cy="140.4" r="4.7" fill="#f08c74" stroke="#000" stroke-width="1.3"/>
<circle cx="442.8" cy="149.9" r="4.7" fill="#f08c74" stroke="#000" stroke-width="1.3"/>
<circle cx="440.3" cy="165.6" r="4.7" fill="#f08c74" stroke="#000" stroke-width="1.3"/>
<circle cx="469.0" cy="144.4" r="4.7" fill="#f08c74" stroke="#000" stroke-width="1.3"/>
<circle cx="480.4" cy="158.6" r="4.7" fill="#f08c74" stroke="#000" stroke-width="1.3"/>
<circle cx="457.2" cy="167.3" r="4.7" fill="#f08c74" stroke="#000" stroke-width="1.3"/>
<circle cx="486.4" cy="178.5" r="4.7" fill="#f08c74" stroke="#000" stroke-width="1.3"/>
<circle cx="488.9" cy="184.3" r="4.7" fill="#f08c74" stroke="#000" stroke-width="1.3"/>
<circle cx="478.9" cy="199.7" r="4.7" fill="#f08c74" stroke="#000" stroke-width="1.3"/>
<circle cx="487.4" cy="199.0" r="4.7" fill="#f08c74" stroke="#000" stroke-width="1.3"/>
<circle cx="490.4" cy="210.4" r="4.7" fill="#f08c74" stroke="#000" stroke-width="1.3"/>
<circle cx="539.6" cy="167.7" r="4.7" fill="#f08c74" stroke="#000" stroke-width="1.3"/>
<circle cx="541.3" cy="215.8" r="4.7" fill="#f08c74" stroke="#000" stroke-width="1.3"/>
<circle cx="557.5" cy="225.7" r="4.7" fill="#f08c74" stroke="#000" stroke-width="1.3"/>
<circle cx="520.8" cy="230.4" r="4.7" fill="#f08c74" stroke="#000" stroke-width="1.3"/>
<circle cx="505.8" cy="233.9" r="4.7" fill="#f08c74" stroke="#000" stroke-width="1.3"/>
<circle cx="493.4" cy="238.4" r="4.7" fill="#f08c74" stroke="#000" stroke-width="1.3"/>
<circle cx="608.1" cy="248.7" r="4.7" fill="#f08c74" stroke="#000" stroke-width="1.3"/>
<circle cx="507.6" cy="171.0" r="4.7" fill="#1d7a1c" stroke="#000" stroke-width="1.3"/>
<circle cx="431.6" cy="200.0" r="4.7" fill="#1d7a1c" stroke="#000" stroke-width="1.3"/>
<circle cx="434.8" cy="209.0" r="4.7" fill="#1d7a1c" stroke="#000" stroke-width="1.3"/>
<circle cx="417.8" cy="212.2" r="4.7" fill="#1d7a1c" stroke="#000" stroke-width="1.3"/>
<circle cx="423.6" cy="214.2" r="4.7" fill="#1d7a1c" stroke="#000" stroke-width="1.3"/>
<circle cx="416.1" cy="222.2" r="4.7" fill="#1d7a1c" stroke="#000" stroke-width="1.3"/>
<circle cx="452.2" cy="216.7" r="4.7" fill="#1d7a1c" stroke="#000" stroke-width="1.3"/>
<circle cx="480.4" cy="222.7" r="4.7" fill="#1d7a1c" stroke="#000" stroke-width="1.3"/>
<circle cx="474.7" cy="229.6" r="4.7" fill="#1d7a1c" stroke="#000" stroke-width="1.3"/>
<circle cx="459.0" cy="230.1" r="4.7" fill="#1d7a1c" stroke="#000" stroke-width="1.3"/>
<circle cx="497.9" cy="244.1" r="4.7" fill="#1d7a1c" stroke="#000" stroke-width="1.3"/>
<circle cx="426.8" cy="243.1" r="4.7" fill="#1d7a1c" stroke="#000" stroke-width="1.3"/>
<circle cx="449.8" cy="244.1" r="4.7" fill="#1d7a1c" stroke="#000" stroke-width="1.3"/>
<circle cx="404.4" cy="262.0" r="4.7" fill="#1d7a1c" stroke="#000" stroke-width="1.3"/>
<circle cx="419.8" cy="298.7" r="4.7" fill="#1d7a1c" stroke="#000" stroke-width="1.3"/>
<circle cx="425.3" cy="192.2" r="4.7" fill="#6393dc" stroke="#000" stroke-width="1.3"/>
<circle cx="409.1" cy="206.7" r="4.7" fill="#6393dc" stroke="#000" stroke-width="1.3"/>
<circle cx="420.6" cy="220.4" r="4.7" fill="#6393dc" stroke="#000" stroke-width="1.3"/>
<circle cx="421.8" cy="226.4" r="4.7" fill="#6393dc" stroke="#000" stroke-width="1.3"/>
<circle cx="411.9" cy="228.4" r="4.7" fill="#6393dc" stroke="#000" stroke-width="1.3"/>
<circle cx="459.7" cy="204.7" r="4.7" fill="#6393dc" stroke="#000" stroke-width="1.3"/>
<circle cx="459.2" cy="212.7" r="4.7" fill="#6393dc" stroke="#000" stroke-width="1.3"/>
<circle cx="444.8" cy="220.4" r="4.7" fill="#6393dc" stroke="#000" stroke-width="1.3"/>
<circle cx="443.5" cy="225.9" r="4.7" fill="#6393dc" stroke="#000" stroke-width="1.3"/>
<circle cx="447.3" cy="227.6" r="4.7" fill="#6393dc" stroke="#000" stroke-width="1.3"/>
<circle cx="451.0" cy="235.4" r="4.7" fill="#6393dc" stroke="#000" stroke-width="1.3"/>
<circle cx="445.5" cy="234.6" r="4.7" fill="#6393dc" stroke="#000" stroke-width="1.3"/>
<circle cx="442.3" cy="243.4" r="4.7" fill="#6393dc" stroke="#000" stroke-width="1.3"/>
<circle cx="439.0" cy="268.8" r="4.7" fill="#6393dc" stroke="#000" stroke-width="1.3"/>
<circle cx="589.9" cy="237.4" r="4.7" fill="#6393dc" stroke="#000" stroke-width="1.3"/>
<circle cx="458.5" cy="172.3" r="4.7" fill="none" stroke="#000" stroke-width="1.3"/>
<text x="376.5" y="54.5" font-size="10.6" style="fill:#222">Procrustes analysis:</text>
<text x="390.5" y="68.5" font-size="10.6" style="fill:#222"><tspan font-style="italic">M2</tspan> = 0 861, <tspan font-style="italic">P</tspan>−value = 0 034</text>
<rect x="364.4" y="41.6" width="254.8" height="269.0" fill="none" stroke="#000" stroke-width="1.3"/>
<line x1="364.4" y1="41.0" x2="364.4" y2="311.8" stroke="#000" stroke-width="2.4"/>
<line x1="363.2" y1="310.6" x2="619.8" y2="310.6" stroke="#000" stroke-width="2.4"/>
<g font-size="11.3">
<line x1="404.8" y1="310.6" x2="404.8" y2="315.6" stroke="#000" stroke-width="2"/>
<text x="404.8" y="327.6" text-anchor="middle">−1</text>
<line x1="462.2" y1="310.6" x2="462.2" y2="315.6" stroke="#000" stroke-width="2"/>
<text x="462.2" y="327.6" text-anchor="middle">0</text>
<line x1="519.7" y1="310.6" x2="519.7" y2="315.6" stroke="#000" stroke-width="2"/>
<text x="519.7" y="327.6" text-anchor="middle">1</text>
<line x1="577.2" y1="310.6" x2="577.2" y2="315.6" stroke="#000" stroke-width="2"/>
<text x="577.2" y="327.6" text-anchor="middle">2</text>
<line x1="358.9" y1="80.3" x2="364.4" y2="80.3" stroke="#000" stroke-width="2"/>
<text x="356.9" y="84.3" text-anchor="end">1 0</text>
<line x1="358.9" y1="147.6" x2="364.4" y2="147.6" stroke="#000" stroke-width="2"/>
<text x="356.9" y="151.6" text-anchor="end">0 5</text>
<line x1="358.9" y1="215.2" x2="364.4" y2="215.2" stroke="#000" stroke-width="2"/>
<text x="356.9" y="219.2" text-anchor="end">0 0</text>
<line x1="358.9" y1="282.5" x2="364.4" y2="282.5" stroke="#000" stroke-width="2"/>
<text x="356.9" y="286.5" text-anchor="end">−0 5</text>
</g>
<text x="491.8" y="342.3" font-size="13.3" text-anchor="middle">Dimension 1</text>
<text transform="translate(331.7,176.1) rotate(-90)" font-size="13.3" text-anchor="middle">Dimension 2</text>
<text x="329.0" y="20.8" font-size="24.5">b)</text>
</g>
<g>
<line x1="828.3" y1="40.4" x2="828.3" y2="309.2" stroke="#a2a2a2" stroke-width="1.1" stroke-dasharray="5,4"/>
<line x1="684.2" y1="170.0" x2="939.2" y2="170.0" stroke="#a2a2a2" stroke-width="1.1" stroke-dasharray="5,4"/>
<clipPath id="cp3"><rect x="684.2" y="40.4" width="255.0" height="268.8"/></clipPath>
<g clip-path="url(#cp3)">
<line x1="817.5" y1="163.0" x2="802.1" y2="107.1" stroke="#ab153b" stroke-width="4.5"/>
<line x1="802.1" y1="107.1" x2="786.8" y2="51.2" stroke="#2ea3d5" stroke-width="4.5"/>
<line x1="815.6" y1="162.8" x2="779.2" y2="128.9" stroke="#ab153b" stroke-width="4.5"/>
<line x1="779.2" y1="128.9" x2="742.8" y2="95.0" stroke="#2ea3d5" stroke-width="4.5"/>
<line x1="811.5" y1="210.3" x2="834.2" y2="144.6" stroke="#ab153b" stroke-width="4.5"/>
<line x1="834.2" y1="144.6" x2="856.9" y2="78.8" stroke="#2ea3d5" stroke-width="4.5"/>
<line x1="848.0" y1="159.6" x2="835.4" y2="128.6" stroke="#ab153b" stroke-width="4.5"/>
<line x1="835.4" y1="128.6" x2="816.6" y2="82.0" stroke="#2ea3d5" stroke-width="4.5"/>
<line x1="849.6" y1="153.3" x2="844.8" y2="123.5" stroke="#ab153b" stroke-width="4.5"/>
<line x1="844.8" y1="123.5" x2="837.5" y2="78.8" stroke="#2ea3d5" stroke-width="4.5"/>
<line x1="814.0" y1="161.0" x2="834.4" y2="127.9" stroke="#ab153b" stroke-width="4.5"/>
<line x1="852.7" y1="150.1" x2="886.4" y2="141.0" stroke="#ab153b" stroke-width="4.5"/>
<line x1="886.4" y1="141.0" x2="927.5" y2="129.8" stroke="#2ea3d5" stroke-width="4.5"/>
<line x1="852.7" y1="159.6" x2="869.8" y2="149.1" stroke="#ab153b" stroke-width="4.5"/>
<line x1="869.8" y1="149.1" x2="895.5" y2="133.3" stroke="#2ea3d5" stroke-width="4.5"/>
<line x1="855.0" y1="161.0" x2="862.1" y2="158.4" stroke="#ab153b" stroke-width="4.5"/>
<line x1="862.1" y1="158.4" x2="878.7" y2="152.3" stroke="#2ea3d5" stroke-width="4.5"/>
<line x1="851.0" y1="167.5" x2="867.7" y2="166.9" stroke="#ab153b" stroke-width="4.5"/>
<line x1="867.7" y1="166.9" x2="906.6" y2="165.6" stroke="#2ea3d5" stroke-width="4.5"/>
<line x1="855.0" y1="180.0" x2="874.4" y2="182.8" stroke="#ab153b" stroke-width="4.5"/>
<line x1="874.4" y1="182.8" x2="903.5" y2="186.9" stroke="#2ea3d5" stroke-width="4.5"/>
<line x1="851.0" y1="185.0" x2="866.8" y2="196.0" stroke="#ab153b" stroke-width="4.5"/>
<line x1="866.8" y1="196.0" x2="903.8" y2="221.7" stroke="#2ea3d5" stroke-width="4.5"/>
<line x1="850.0" y1="183.0" x2="860.2" y2="191.5" stroke="#ab153b" stroke-width="4.5"/>
<line x1="860.2" y1="191.5" x2="884.1" y2="211.3" stroke="#2ea3d5" stroke-width="4.5"/>
<line x1="853.0" y1="195.0" x2="852.9" y2="202.0" stroke="#ab153b" stroke-width="4.5"/>
<line x1="852.9" y1="202.0" x2="852.1" y2="241.7" stroke="#2ea3d5" stroke-width="4.5"/>
<line x1="845.0" y1="195.0" x2="845.9" y2="200.2" stroke="#ab153b" stroke-width="4.5"/>
<line x1="845.9" y1="200.2" x2="849.3" y2="220.8" stroke="#2ea3d5" stroke-width="4.5"/>
<line x1="816.3" y1="185.0" x2="821.1" y2="227.5" stroke="#ab153b" stroke-width="4.5"/>
<line x1="821.1" y1="227.5" x2="829.0" y2="296.9" stroke="#2ea3d5" stroke-width="4.5"/>
<line x1="829.0" y1="188.1" x2="811.6" y2="210.4" stroke="#ab153b" stroke-width="4.5"/>
<line x1="811.6" y1="210.4" x2="785.5" y2="243.9" stroke="#2ea3d5" stroke-width="4.5"/>
<line x1="813.1" y1="166.0" x2="767.7" y2="174.2" stroke="#ab153b" stroke-width="4.5"/>
<line x1="767.7" y1="174.2" x2="722.2" y2="182.4" stroke="#2ea3d5" stroke-width="4.5"/>
<line x1="813.1" y1="169.1" x2="754.5" y2="178.6" stroke="#ab153b" stroke-width="4.5"/>
<line x1="754.5" y1="178.6" x2="695.8" y2="188.1" stroke="#2ea3d5" stroke-width="4.5"/>
<line x1="852.7" y1="194.5" x2="777.2" y2="191.0" stroke="#ab153b" stroke-width="4.5"/>
<line x1="777.2" y1="191.0" x2="701.6" y2="187.5" stroke="#2ea3d5" stroke-width="4.5"/>
<line x1="813.0" y1="163.0" x2="762.0" y2="177.0" stroke="#ab153b" stroke-width="4.5"/>
<line x1="813.0" y1="172.0" x2="762.0" y2="180.0" stroke="#ab153b" stroke-width="4.5"/>
<line x1="813.0" y1="167.5" x2="770.0" y2="178.5" stroke="#ab153b" stroke-width="4.5"/>
<line x1="816.0" y1="160.0" x2="816.3" y2="150.2" stroke="#ab153b" stroke-width="4.5"/>
<line x1="816.3" y1="150.2" x2="816.6" y2="140.3" stroke="#2ea3d5" stroke-width="4.5"/>
<line x1="838.0" y1="196.0" x2="867.0" y2="186.0" stroke="#ab153b" stroke-width="4.5"/>
<line x1="820.0" y1="172.0" x2="850.0" y2="196.0" stroke="#ab153b" stroke-width="4.5"/>
<line x1="846.0" y1="176.0" x2="855.0" y2="177.8" stroke="#ab153b" stroke-width="4.5"/>
<line x1="855.0" y1="177.8" x2="875.9" y2="182.1" stroke="#2ea3d5" stroke-width="4.5"/>
<line x1="846.0" y1="172.0" x2="861.8" y2="175.0" stroke="#ab153b" stroke-width="4.5"/>
<line x1="861.8" y1="175.0" x2="885.4" y2="179.6" stroke="#2ea3d5" stroke-width="4.5"/>
<line x1="683.8" y1="115.6" x2="938.3" y2="211.5" stroke="#000" stroke-width="1.4"/>
<line x1="872.4" y1="40.4" x2="780.2" y2="308.6" stroke="#000" stroke-width="1.4"/>
</g>
<circle cx="786.8" cy="51.2" r="4.7" fill="#6393dc" stroke="#000" stroke-width="1.3"/>
<circle cx="742.8" cy="95.0" r="4.7" fill="#1d7a1c" stroke="#000" stroke-width="1.3"/>
<circle cx="816.6" cy="82.0" r="4.7" fill="#f08c74" stroke="#000" stroke-width="1.3"/>
<circle cx="837.5" cy="78.8" r="4.7" fill="#f08c74" stroke="#000" stroke-width="1.3"/>
<circle cx="856.9" cy="78.8" r="4.7" fill="#6393dc" stroke="#000" stroke-width="1.3"/>
<circle cx="895.5" cy="133.3" r="4.7" fill="#6393dc" stroke="#000" stroke-width="1.3"/>
<circle cx="927.5" cy="129.8" r="4.7" fill="#f08c74" stroke="#000" stroke-width="1.3"/>
<circle cx="878.7" cy="152.3" r="4.7" fill="#6393dc" stroke="#000" stroke-width="1.3"/>
<circle cx="906.6" cy="165.6" r="4.7" fill="#1d7a1c" stroke="#000" stroke-width="1.3"/>
<circle cx="903.5" cy="186.9" r="4.7" fill="#1d7a1c" stroke="#000" stroke-width="1.3"/>
<circle cx="885.4" cy="179.6" r="4.7" fill="#f08c74" stroke="#000" stroke-width="1.3"/>
<circle cx="875.9" cy="182.1" r="4.7" fill="#6393dc" stroke="#000" stroke-width="1.3"/>
<circle cx="861.3" cy="174.2" r="4.7" fill="#6393dc" stroke="#000" stroke-width="1.3"/>
<circle cx="884.1" cy="211.3" r="4.7" fill="#f08c74" stroke="#000" stroke-width="1.3"/>
<circle cx="903.8" cy="221.7" r="4.7" fill="#6393dc" stroke="#000" stroke-width="1.3"/>
<circle cx="849.3" cy="220.8" r="4.7" fill="#f08c74" stroke="#000" stroke-width="1.3"/>
<circle cx="852.1" cy="241.7" r="4.7" fill="#f08c74" stroke="#000" stroke-width="1.3"/>
<circle cx="785.5" cy="243.9" r="4.7" fill="#1d7a1c" stroke="#000" stroke-width="1.3"/>
<circle cx="829.0" cy="296.9" r="4.7" fill="#6393dc" stroke="#000" stroke-width="1.3"/>
<circle cx="722.2" cy="182.4" r="4.7" fill="#1d7a1c" stroke="#000" stroke-width="1.3"/>
<circle cx="695.8" cy="188.1" r="4.7" fill="#1d7a1c" stroke="#000" stroke-width="1.3"/>
<circle cx="701.6" cy="187.5" r="4.7" fill="#1d7a1c" stroke="#000" stroke-width="1.3"/>
<circle cx="816.6" cy="140.3" r="4.7" fill="#6393dc" stroke="#000" stroke-width="1.3"/>
<circle cx="824.2" cy="171.7" r="4.7" fill="#1d7a1c" stroke="#000" stroke-width="1.3"/>
<circle cx="833.7" cy="180.2" r="4.7" fill="#1d7a1c" stroke="#000" stroke-width="1.3"/>
<circle cx="839.4" cy="181.8" r="4.7" fill="#1d7a1c" stroke="#000" stroke-width="1.3"/>
<circle cx="814.7" cy="161.8" r="4.7" fill="none" stroke="#000" stroke-width="1.3"/>
<circle cx="812.5" cy="165.5" r="4.7" fill="none" stroke="#000" stroke-width="1.3"/>
<circle cx="816.0" cy="158.0" r="4.7" fill="none" stroke="#000" stroke-width="1.3"/>
<circle cx="814.5" cy="163.5" r="4.7" fill="#6393dc" stroke="#000" stroke-width="1.3"/>
<circle cx="815.0" cy="166.5" r="4.7" fill="#6393dc" stroke="#000" stroke-width="1.3"/>
<circle cx="815.3" cy="171.7" r="4.7" fill="#6393dc" stroke="#000" stroke-width="1.3"/>
<circle cx="827.4" cy="167.5" r="4.7" fill="#6393dc" stroke="#000" stroke-width="1.3"/>
<circle cx="837.5" cy="172.3" r="4.7" fill="#6393dc" stroke="#000" stroke-width="1.3"/>
<circle cx="825.2" cy="181.8" r="4.7" fill="#6393dc" stroke="#000" stroke-width="1.3"/>
<circle cx="848.3" cy="151.7" r="4.7" fill="#f08c74" stroke="#000" stroke-width="1.3"/>
<circle cx="835.0" cy="157.1" r="4.7" fill="#f08c74" stroke="#000" stroke-width="1.3"/>
<circle cx="850.2" cy="160.6" r="4.7" fill="#f08c74" stroke="#000" stroke-width="1.3"/>
<circle cx="853.1" cy="171.3" r="4.7" fill="#f08c74" stroke="#000" stroke-width="1.3"/>
<circle cx="843.5" cy="173.9" r="4.7" fill="#f08c74" stroke="#000" stroke-width="1.3"/>
<circle cx="849.9" cy="183.1" r="4.7" fill="#f08c74" stroke="#000" stroke-width="1.3"/>
<circle cx="847.7" cy="192.9" r="4.7" fill="#f08c74" stroke="#000" stroke-width="1.3"/>
<circle cx="840.1" cy="200.2" r="4.7" fill="#f08c74" stroke="#000" stroke-width="1.3"/>
<circle cx="854.6" cy="199.2" r="4.7" fill="#1d7a1c" stroke="#000" stroke-width="1.3"/>
<text x="700.5" y="55.5" font-size="10.6" style="fill:#222">Procrustes analysis:</text>
<text x="714.5" y="69.5" font-size="10.6" style="fill:#222"><tspan font-style="italic">M2</tspan> = 0 9502, <tspan font-style="italic">P</tspan>−value = 0 392</text>
<rect x="684.2" y="40.4" width="255.0" height="268.8" fill="none" stroke="#000" stroke-width="1.3"/>
<line x1="684.2" y1="39.8" x2="684.2" y2="310.4" stroke="#000" stroke-width="2.4"/>
<line x1="683.0" y1="309.2" x2="939.8" y2="309.2" stroke="#000" stroke-width="2.4"/>
<g font-size="11.3">
<line x1="742.9" y1="309.2" x2="742.9" y2="314.2" stroke="#000" stroke-width="2"/>
<text x="742.9" y="326.2" text-anchor="middle">−1</text>
<line x1="828.3" y1="309.2" x2="828.3" y2="314.2" stroke="#000" stroke-width="2"/>
<text x="828.3" y="326.2" text-anchor="middle">0</text>
<line x1="913.3" y1="309.2" x2="913.3" y2="314.2" stroke="#000" stroke-width="2"/>
<text x="913.3" y="326.2" text-anchor="middle">1</text>
<line x1="678.7" y1="81.3" x2="684.2" y2="81.3" stroke="#000" stroke-width="2"/>
<text x="676.7" y="85.3" text-anchor="end">1 0</text>
<line x1="678.7" y1="125.4" x2="684.2" y2="125.4" stroke="#000" stroke-width="2"/>
<text x="676.7" y="129.4" text-anchor="end">0 5</text>
<line x1="678.7" y1="170.0" x2="684.2" y2="170.0" stroke="#000" stroke-width="2"/>
<text x="676.7" y="174.0" text-anchor="end">0 0</text>
<line x1="678.7" y1="214.2" x2="684.2" y2="214.2" stroke="#000" stroke-width="2"/>
<text x="676.7" y="218.2" text-anchor="end">−0 5</text>
<line x1="678.7" y1="258.8" x2="684.2" y2="258.8" stroke="#000" stroke-width="2"/>
<text x="676.7" y="262.8" text-anchor="end">−1 0</text>
<line x1="678.7" y1="302.9" x2="684.2" y2="302.9" stroke="#000" stroke-width="2"/>
<text x="676.7" y="306.9" text-anchor="end">−1 5</text>
</g>
<text x="811.7" y="341.5" font-size="13.3" text-anchor="middle">Dimension 1</text>
<text transform="translate(651.4,174.8) rotate(-90)" font-size="13.3" text-anchor="middle">Dimension 2</text>
<text x="648.5" y="21.0" font-size="24.5">c)</text>
</g>
<text x="955.4" y="150.5" font-size="10.6">group</text>
<rect x="955.4" y="157.2" width="17.3" height="50.8" fill="#fff" stroke="#000" stroke-width="2.2"/>
<line x1="955.4" y1="174.1" x2="972.7" y2="174.1" stroke="#000" stroke-width="2"/>
<line x1="955.4" y1="191" x2="972.7" y2="191" stroke="#000" stroke-width="2"/>
<circle cx="964" cy="165.3" r="4.7" fill="#f08c74" stroke="#000" stroke-width="1.3"/>
<text x="977.5" y="168.9" font-size="8.6">Black</text>
<circle cx="964" cy="182.2" r="4.7" fill="#1d7a1c" stroke="#000" stroke-width="1.3"/>
<text x="977.5" y="185.8" font-size="8.6">White</text>
<circle cx="964" cy="199.1" r="4.7" fill="#6393dc" stroke="#000" stroke-width="1.3"/>
<text x="977.5" y="202.7" font-size="8.6">Yellow</text>
</svg></body></html>
